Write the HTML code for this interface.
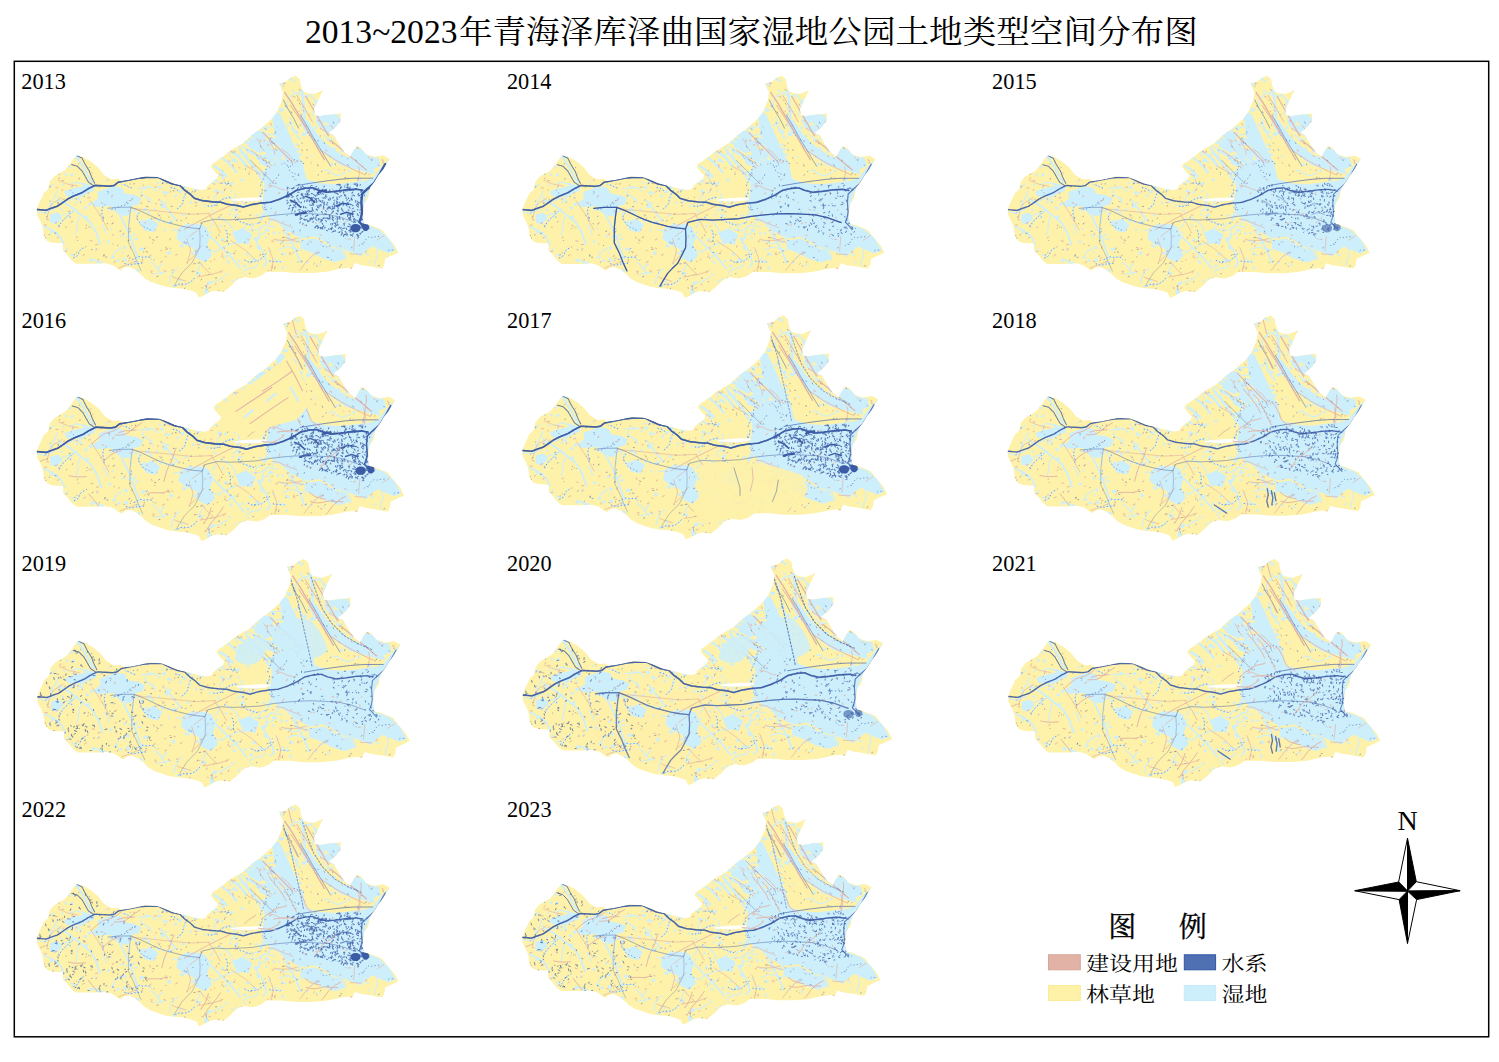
<!DOCTYPE html>
<html><head><meta charset="utf-8"><title>2013~2023年青海泽库泽曲国家湿地公园土地类型空间分布图</title>
<style>
html,body{margin:0;padding:0;background:#fff;}
body{width:1499px;height:1062px;overflow:hidden;}
svg{display:block;}
.yr{font-family:"Liberation Serif","Noto Serif CJK SC",serif;font-size:24px;fill:#000;}
.ttl{font-family:"Liberation Serif","Noto Serif CJK SC",serif;font-size:33.6px;fill:#000;}
.lg{font-family:"Liberation Serif","Noto Serif CJK SC",serif;font-size:23px;fill:#000;}
.lgt{font-family:"Liberation Serif","Noto Serif CJK SC",serif;font-size:28px;fill:#000;stroke:#000;stroke-width:0.35px;}
.nn{font-family:"Liberation Serif",serif;font-size:28px;fill:#000;}
</style></head>
<body>
<svg width="1499" height="1062" viewBox="0 0 1499 1062">
<defs><clipPath id="clipm"><path d="M36.6,209.4 38.0,205.4 39.7,201.5 41.9,197.0 43.6,193.0 47.6,189.6 48.7,185.6 49.6,181.5 54.1,176.2 64.7,170.1 70.7,162.6 76.0,155.1 82.7,156.6 90.3,161.1 97.8,167.1 103.8,174.7 111.4,179.2 117.4,178.4 120.4,180.7 127.9,179.9 135.5,178.4 144.5,176.2 156.6,176.9 165.6,179.9 174.6,183.7 185.6,186.3 194.1,188.6 201.5,189.7 206.0,188.6 206.6,186.3 211.6,181.8 216.7,178.4 217.9,175.0 214.5,171.6 210.5,166.6 211.6,163.7 217.3,160.3 219.5,158.1 224.1,155.3 226.9,152.4 235.9,146.8 242.1,143.4 250.7,135.4 260.0,128.7 270.7,119.4 276.0,112.7 281.4,100.7 282.7,92.7 278.7,83.3 285.4,82.0 289.4,78.0 295.2,75.8 299.4,79.3 300.1,84.7 302.7,91.3 306.7,93.3 313.4,94.0 322.1,90.5 317.4,100.7 313.4,110.0 314.7,115.4 320.1,116.0 328.1,114.7 340.1,113.4 340.1,120.7 334.8,127.4 328.1,132.7 333.4,135.4 338.8,144.7 344.1,152.7 349.4,156.7 355.4,146.0 360.1,147.4 365.4,154.1 373.5,156.7 382.8,155.4 388.8,158.7 386.8,162.1 382.8,168.7 377.5,175.4 373.5,182.1 369.4,187.4 367.4,198.0 363.4,203.3 362.1,216.7 363.4,223.4 368.5,224.5 378.6,228.5 382.0,230.2 386.6,236.4 393.9,244.9 397.6,252.2 391.6,255.0 384.3,258.4 383.7,264.0 381.5,268.0 377.0,267.5 371.3,266.3 364.5,265.2 360.0,264.6 354.1,262.7 351.4,268.7 347.4,267.4 338.1,268.7 326.1,271.4 311.4,272.7 295.4,272.7 282.0,271.4 266.0,271.4 260.7,275.4 252.7,278.0 243.4,276.7 236.7,279.4 230.0,286.1 223.3,291.4 214.1,290.4 208.1,292.2 202.1,295.8 198.5,297.0 196.1,292.2 191.3,290.4 184.1,288.6 172.1,287.4 164.9,286.2 157.7,283.8 150.5,281.4 144.5,277.8 139.7,273.0 134.9,269.4 128.9,266.4 124.1,267.0 120.4,270.0 116.8,268.2 112.0,264.6 104.8,262.8 95.2,263.4 85.6,263.4 76.0,263.4 71.2,259.8 67.6,255.0 62.8,250.2 62.8,243.0 52.0,242.4 47.2,240.6 43.6,235.8 43.6,233.7 43.1,229.2 42.0,225.2 40.3,220.7 38.0,216.7 36.9,213.9Z"/></clipPath><g id="base"><path d="M36.6,209.4 38.0,205.4 39.7,201.5 41.9,197.0 43.6,193.0 47.6,189.6 48.7,185.6 49.6,181.5 54.1,176.2 64.7,170.1 70.7,162.6 76.0,155.1 82.7,156.6 90.3,161.1 97.8,167.1 103.8,174.7 111.4,179.2 117.4,178.4 120.4,180.7 127.9,179.9 135.5,178.4 144.5,176.2 156.6,176.9 165.6,179.9 174.6,183.7 185.6,186.3 194.1,188.6 201.5,189.7 206.0,188.6 206.6,186.3 211.6,181.8 216.7,178.4 217.9,175.0 214.5,171.6 210.5,166.6 211.6,163.7 217.3,160.3 219.5,158.1 224.1,155.3 226.9,152.4 235.9,146.8 242.1,143.4 250.7,135.4 260.0,128.7 270.7,119.4 276.0,112.7 281.4,100.7 282.7,92.7 278.7,83.3 285.4,82.0 289.4,78.0 295.2,75.8 299.4,79.3 300.1,84.7 302.7,91.3 306.7,93.3 313.4,94.0 322.1,90.5 317.4,100.7 313.4,110.0 314.7,115.4 320.1,116.0 328.1,114.7 340.1,113.4 340.1,120.7 334.8,127.4 328.1,132.7 333.4,135.4 338.8,144.7 344.1,152.7 349.4,156.7 355.4,146.0 360.1,147.4 365.4,154.1 373.5,156.7 382.8,155.4 388.8,158.7 386.8,162.1 382.8,168.7 377.5,175.4 373.5,182.1 369.4,187.4 367.4,198.0 363.4,203.3 362.1,216.7 363.4,223.4 368.5,224.5 378.6,228.5 382.0,230.2 386.6,236.4 393.9,244.9 397.6,252.2 391.6,255.0 384.3,258.4 383.7,264.0 381.5,268.0 377.0,267.5 371.3,266.3 364.5,265.2 360.0,264.6 354.1,262.7 351.4,268.7 347.4,267.4 338.1,268.7 326.1,271.4 311.4,272.7 295.4,272.7 282.0,271.4 266.0,271.4 260.7,275.4 252.7,278.0 243.4,276.7 236.7,279.4 230.0,286.1 223.3,291.4 214.1,290.4 208.1,292.2 202.1,295.8 198.5,297.0 196.1,292.2 191.3,290.4 184.1,288.6 172.1,287.4 164.9,286.2 157.7,283.8 150.5,281.4 144.5,277.8 139.7,273.0 134.9,269.4 128.9,266.4 124.1,267.0 120.4,270.0 116.8,268.2 112.0,264.6 104.8,262.8 95.2,263.4 85.6,263.4 76.0,263.4 71.2,259.8 67.6,255.0 62.8,250.2 62.8,243.0 52.0,242.4 47.2,240.6 43.6,235.8 43.6,233.7 43.1,229.2 42.0,225.2 40.3,220.7 38.0,216.7 36.9,213.9Z" fill="#FEF1A9"/><g clip-path="url(#clipm)"><path d="M271.0,112.0 279.0,113.0 287.0,130.0 295.0,148.0 303.0,166.0 306.0,180.0 296.0,182.0 288.0,168.0 281.0,152.0 274.0,134.0Z" fill="#CDEFFC"/><path d="M300.0,118.0 307.0,120.0 316.0,133.0 325.0,143.0 340.0,154.0 356.0,160.0 372.0,166.0 374.0,174.0 358.0,170.0 340.0,165.0 322.0,152.0 312.0,140.0 304.0,130.0Z" fill="#CDEFFC"/><path d="M349.0,153.0 356.0,147.0 362.0,150.0 368.0,156.0 378.0,158.0 380.0,166.0 370.0,170.0 358.0,166.0 350.0,160.0Z" fill="#CDEFFC"/><path d="M97.2,191.6 106.0,188.4 114.1,186.0 122.1,187.6 124.5,193.2 134.1,194.8 141.3,198.0 138.1,204.4 130.1,206.0 132.5,210.8 126.9,215.7 118.9,214.0 114.1,210.8 110.9,206.0 104.5,206.0 94.8,206.8 91.6,202.8 98.0,198.0Z" fill="#CDEFFC"/><path d="M64.0,191.0 72.0,188.5 80.0,186.5 88.0,184.0 95.0,186.5 92.0,191.0 84.0,195.0 75.0,196.5 66.0,196.0Z" fill="#CDEFFC"/><path d="M178.0,228.0 186.0,224.0 196.0,223.5 205.0,226.0 210.0,235.0 207.0,245.0 212.0,255.0 205.0,262.0 196.0,258.0 193.0,248.0 183.0,244.0 176.0,238.0Z" fill="#CDEFFC"/><path d="M262.0,172.0 276.0,162.0 290.0,158.0 300.0,165.0 304.0,178.0 318.0,183.0 335.0,184.0 352.0,182.0 362.0,181.0 372.0,178.0 378.0,170.0 384.0,163.0 388.0,159.0 382.0,170.0 372.0,184.0 366.0,195.0 362.0,210.0 364.0,224.0 378.0,229.0 388.0,238.0 395.0,250.0 388.0,253.0 380.0,250.0 372.0,246.0 366.0,250.0 360.0,256.0 350.0,252.0 340.0,248.0 330.0,246.0 322.0,240.0 314.0,236.0 305.0,238.0 296.0,236.0 286.0,230.0 280.0,224.0 272.0,220.0 266.0,214.0 262.0,208.0 262.0,200.0 264.0,192.0 264.0,184.0Z" fill="#CDEFFC"/><path d="M300.0,240.0 315.0,238.0 328.0,246.0 340.0,250.0 345.0,258.0 335.0,262.0 322.0,258.0 310.0,252.0 300.0,248.0Z" fill="#CDEFFC"/><path d="M50.0,214.0 58.0,212.0 62.0,218.0 56.0,224.0 50.0,222.0Z" fill="#CDEFFC"/><path d="M140.0,222.0 150.0,218.0 158.0,224.0 154.0,232.0 144.0,230.0Z" fill="#CDEFFC"/><path d="M232.0,232.0 242.0,228.0 252.0,234.0 248.0,244.0 236.0,242.0Z" fill="#CDEFFC"/><path d="M255.2,131.6L264.3,136.4M250.3,138.8L258.8,143.8M259.9,162.2L268.8,164.9M254.3,139.4L263.1,143.6M246.1,149.6L256.2,155.3M260.1,155.6L267.9,158.3M254.5,133.8L264.8,139.8M259.1,142.1L269.3,146.9M261.3,163.0L271.9,167.2M275.8,151.1L280.4,153.7M254.9,145.6L259.6,148.3M250.1,133.9L256.3,138.7M269.2,139.2L274.8,141.1M270.3,149.3L280.4,150.7M263.9,140.8L269.4,143.8M248.4,146.0L257.7,150.8M270.6,158.0L275.7,161.7M248.9,138.9L257.8,145.0M254.4,140.4L264.7,144.7M273.9,153.1L280.8,156.7M257.7,137.3L264.5,139.6M272.6,154.0L278.9,155.7M268.9,150.8L278.2,155.1M243.7,140.4L253.7,146.6M250.6,142.8L258.8,149.4M260.9,162.3L267.4,164.1M272.7,141.2L279.3,143.5M263.3,148.6L274.8,151.8M265.1,142.8L272.3,144.4M264.0,150.3L273.4,157.3M248.4,150.2L256.7,155.0M268.6,158.7L274.0,162.6M271.2,138.2L279.3,141.4M266.1,154.5L271.6,157.3M268.2,141.3L277.1,146.2M258.2,144.4L265.6,150.1M265.2,155.5L269.8,157.7M262.0,163.1L269.5,165.8M255.7,146.3L261.4,150.3M266.8,163.7L276.6,167.6M256.8,131.8L262.3,133.9M256.7,157.8L265.6,162.2M250.7,146.1L259.9,151.7M259.6,131.8L264.8,133.7M250.6,142.1L257.7,146.6" stroke="#CDEFFC" stroke-width="2.6" stroke-linecap="round" fill="none"/><path d="M321.0,127.0L329.1,130.9M326.3,126.1L332.1,128.0M327.9,115.0L332.8,116.8M321.5,117.7L328.8,121.1M327.6,121.1L337.6,124.8M316.4,116.5L324.5,120.1M318.0,123.0L326.3,128.3M318.4,115.3L323.9,118.0M326.4,128.4L335.4,130.5M322.2,115.0L328.1,117.0M318.3,114.7L325.3,119.5M328.7,115.0L335.9,118.7M330.9,120.9L337.6,123.3M320.3,114.6L328.4,121.5M320.4,116.0L328.0,118.7M316.1,120.5L323.0,122.9M322.4,129.8L327.3,131.7M332.6,126.0L337.6,127.2M332.5,119.1L339.8,121.9M323.4,129.5L334.1,134.8M319.9,125.6L325.0,129.1M327.0,122.0L332.9,124.5M333.7,117.0L340.2,119.9M326.7,120.6L333.6,125.7M320.0,115.1L330.3,119.9M317.0,123.1L322.8,126.0M333.3,121.4L338.6,125.1M329.9,115.3L339.8,119.8M318.8,125.8L328.0,129.0M324.5,130.1L332.7,133.0M328.5,121.3L336.4,124.7M316.7,118.4L322.4,121.1M332.2,114.8L337.2,116.4M316.4,116.8L322.2,120.4M333.4,117.8L341.4,121.9" stroke="#CDEFFC" stroke-width="2.6" stroke-linecap="round" fill="none"/><path d="M214.0,166.0 220.0,170.0 226.0,176.0" fill="none" stroke="#CDEFFC" stroke-width="2.5" stroke-linecap="round" stroke-linejoin="round"/><path d="M222.0,158.0 230.0,164.0 236.0,172.0" fill="none" stroke="#CDEFFC" stroke-width="2.2" stroke-linecap="round" stroke-linejoin="round"/><path d="M232.0,152.0 240.0,158.0 246.0,166.0" fill="none" stroke="#CDEFFC" stroke-width="2.5" stroke-linecap="round" stroke-linejoin="round"/><path d="M212.0,178.0 218.0,182.0" fill="none" stroke="#CDEFFC" stroke-width="2.0" stroke-linecap="round" stroke-linejoin="round"/><path d="M278.5,83.4 281.0,95.0 275.0,108.0" fill="none" stroke="#CDEFFC" stroke-width="3.0" stroke-linecap="round" stroke-linejoin="round"/><path d="M301.3,91.0 303.0,103.0 304.0,118.0" fill="none" stroke="#CDEFFC" stroke-width="2.6" stroke-linecap="round" stroke-linejoin="round"/><path d="M255.0,135.0 262.0,143.0 270.0,150.0 278.0,158.0 286.0,166.0" fill="none" stroke="#CDEFFC" stroke-width="3.0" stroke-linecap="round" stroke-linejoin="round"/><path d="M240.0,150.0 248.0,160.0 256.0,170.0 262.0,180.0" fill="none" stroke="#CDEFFC" stroke-width="2.5" stroke-linecap="round" stroke-linejoin="round"/><path d="M315.0,100.0 320.0,110.0 326.0,120.0 333.0,130.0" fill="none" stroke="#CDEFFC" stroke-width="2.0" stroke-linecap="round" stroke-linejoin="round"/><path d="M330.0,118.0 336.0,125.0 341.0,133.0" fill="none" stroke="#CDEFFC" stroke-width="2.0" stroke-linecap="round" stroke-linejoin="round"/><path d="M355.0,150.0 360.0,160.0 366.0,170.0" fill="none" stroke="#CDEFFC" stroke-width="2.5" stroke-linecap="round" stroke-linejoin="round"/><path d="M76.0,156.0 80.0,162.0 84.0,168.0 88.0,176.0 92.0,182.0" fill="none" stroke="#CDEFFC" stroke-width="2.0" stroke-linecap="round" stroke-linejoin="round"/><path d="M60.0,200.0 70.0,206.0 80.0,214.0 90.0,222.0 96.0,232.0 100.0,244.0" fill="none" stroke="#CDEFFC" stroke-width="1.8" stroke-linecap="round" stroke-linejoin="round"/><path d="M120.0,215.0 125.0,225.0 130.0,236.0 134.0,248.0 138.0,258.0" fill="none" stroke="#CDEFFC" stroke-width="1.8" stroke-linecap="round" stroke-linejoin="round"/><path d="M160.0,200.0 168.0,210.0 176.0,220.0" fill="none" stroke="#CDEFFC" stroke-width="1.6" stroke-linecap="round" stroke-linejoin="round"/><path d="M210.0,236.0 222.0,248.0 232.0,258.0 240.0,268.0" fill="none" stroke="#CDEFFC" stroke-width="1.6" stroke-linecap="round" stroke-linejoin="round"/><path d="M255.0,240.0 262.0,250.0 266.0,262.0" fill="none" stroke="#CDEFFC" stroke-width="1.6" stroke-linecap="round" stroke-linejoin="round"/><path d="M44.0,226.0 52.0,230.0 60.0,236.0 64.0,244.0" fill="none" stroke="#CDEFFC" stroke-width="1.6" stroke-linecap="round" stroke-linejoin="round"/><path d="M284.0,226.0 290.0,240.0 296.0,252.0 300.0,262.0" fill="none" stroke="#CDEFFC" stroke-width="1.8" stroke-linecap="round" stroke-linejoin="round"/><path d="M230.1,156.7 229.6,154.1 228.6,151.7M264.3,204.8 262.0,203.5 260.9,201.2 260.3,198.6 259.7,196.1 259.5,193.5M260.1,185.6 260.5,183.1 262.0,180.9 262.9,178.5 263.9,176.1 265.3,173.9 265.5,171.3 265.6,168.7 266.9,166.4 266.4,163.9 265.7,161.4M299.9,139.5 298.7,137.2 296.6,135.7 295.9,133.2 293.6,131.9 292.1,129.8 291.5,127.3 291.4,124.7 291.7,122.1 290.5,119.8 288.9,117.8M215.9,252.1 213.5,251.0 211.0,250.3 208.5,249.7 205.9,249.5M289.8,218.9 287.8,217.3 286.2,215.3 284.2,213.6 282.8,211.4 281.2,209.4 279.0,208.0 276.6,207.1M303.1,163.8 301.8,161.6 299.3,160.8 296.7,160.5 294.4,159.5 291.8,160.0 289.3,160.8 286.7,160.6M166.1,271.4 163.5,271.8 161.0,272.2 158.5,272.8 155.9,273.1 153.4,273.9M229.6,210.7 232.0,209.7 233.9,207.9 234.9,205.5 234.1,203.0 233.7,200.5 234.7,198.0 235.3,195.5 235.0,192.9M76.3,208.7 74.1,210.1 71.7,211.2 69.4,212.4 67.1,213.5 64.5,213.7 62.1,214.8 59.6,215.5 57.0,215.6M132.2,259.1 134.7,258.4 136.7,256.8 139.3,256.2 141.8,256.9 144.4,256.8 146.9,256.3 149.4,257.0 151.1,259.0M223.7,276.7 221.3,277.7 219.1,279.0 217.0,280.5 214.6,281.6 212.0,281.7M344.4,254.1 343.3,251.7 341.8,249.7 339.3,248.8 336.9,247.8 335.5,245.6 334.0,243.5 332.1,241.7 330.2,239.9 327.9,238.6M328.5,235.8 326.4,237.3 324.2,238.7 322.5,240.7 320.7,242.6 321.4,245.1 321.8,247.7M268.8,260.4 271.3,261.1 273.9,261.1 276.5,261.3 279.1,261.6 281.6,261.2M378.4,236.1 375.8,236.4 373.2,236.6 370.7,237.2 368.2,236.6 366.1,238.2 364.3,240.2 363.2,242.5M271.1,192.3 273.7,192.3 276.3,192.5 278.9,192.5 281.5,192.8 283.8,194.0 286.0,195.3 288.6,195.9 290.9,194.9 293.1,193.4 295.7,193.2M217.7,193.4 215.5,194.8 214.2,197.1 213.8,199.6 213.1,202.1 212.0,204.5M58.9,226.7 59.8,224.3 61.3,222.1 62.9,220.1 64.8,218.3 66.7,216.6 68.5,214.8 70.4,212.9 72.5,211.3M136.7,188.2 139.3,188.0 141.8,187.4 144.2,188.2 146.7,187.6 149.2,186.9 151.8,187.3 153.6,189.2 155.8,190.6M278.3,249.2 280.8,248.5 283.1,247.4 285.6,246.7 288.2,246.7 290.7,247.5 293.2,248.2 295.8,248.6 298.3,249.3 300.8,249.8M277.7,125.3 275.2,126.2 272.7,126.8 270.1,126.7 267.5,126.6 264.9,126.7 262.5,127.7 260.3,129.0M261.8,189.1 261.8,191.7 261.1,194.2 260.1,196.6 258.7,198.8M309.4,257.1 311.7,255.8 313.5,254.0 316.0,253.1 318.5,254.0 321.0,253.5 323.4,252.5 325.9,251.7 328.4,251.0 330.8,250.1M265.6,253.1 264.2,255.3 262.2,257.0 260.2,258.6 258.1,260.2 255.6,260.9 253.1,261.6 250.5,261.3 248.0,261.6 245.6,260.5 243.4,259.1M197.5,224.5 200.1,224.6 202.2,226.1 204.3,227.7 206.6,228.9M208.0,282.5 206.3,284.5 205.5,287.0 206.6,289.4 208.1,291.5M299.7,106.7 301.2,108.8 302.8,110.9 305.3,111.8 307.8,111.5M276.7,160.1 279.3,160.6 281.9,161.0 284.1,162.2 286.1,163.9 287.5,166.1 289.0,168.2 288.3,170.8 286.6,172.7 285.1,174.8M248.4,162.9 247.8,160.4 247.4,157.9 246.7,155.4 247.2,152.8 246.7,150.3 245.0,148.2 242.8,146.9 240.5,145.7M139.2,212.7 137.3,214.5 136.9,217.0 137.4,219.5 139.0,221.6 140.3,223.9 142.1,225.8 144.4,226.9 146.9,227.8 148.9,229.4 151.4,229.8M334.9,205.0 337.5,204.9 340.1,205.0 342.7,205.2 345.0,204.0 346.1,201.7M226.5,240.8 226.8,238.2 227.1,235.6 226.8,233.0 226.3,230.5 224.0,229.4M209.5,227.0 211.3,225.1 212.5,222.8 213.3,220.3 213.3,217.7M141.6,190.1 140.6,192.5 142.3,194.4 144.5,195.9 146.8,197.1 148.5,199.0 149.9,201.2 151.3,203.4M306.4,133.7 305.6,131.3 303.9,129.3 303.1,126.8 301.6,124.7 300.2,122.5 300.6,120.0 300.9,117.4 301.2,114.8M150.7,261.7 152.9,263.1 154.7,265.0 156.6,266.7 157.4,269.2M177.4,268.2 175.0,269.1 173.6,271.3 172.3,273.6 170.8,275.7 169.8,278.1 170.0,280.7 168.7,283.0M315.7,249.5 314.4,247.2 312.3,245.7 311.6,243.2 310.0,241.2M234.9,235.0 232.9,233.3 231.8,231.0 232.0,228.4 230.4,226.3 229.0,224.2 227.1,222.4 225.2,220.7 222.8,219.5 220.7,218.0 218.5,216.6M272.3,165.7 271.0,163.4 269.5,161.3 268.1,159.0 267.3,156.6 266.9,154.0 268.3,151.9 269.2,149.4M242.2,272.1 243.9,270.1 246.3,268.9 248.6,267.9 251.2,267.6 253.8,267.2 256.0,265.9 257.8,264.0M284.5,192.9 286.6,191.3 289.0,190.4 291.5,189.5 294.1,189.4 295.8,187.5 298.1,186.2 300.6,185.9 302.6,184.2 304.8,182.7 306.9,181.2M207.4,205.7 210.0,206.1 212.6,205.6 215.0,204.9 216.7,202.9 218.8,201.3 220.9,199.7 223.2,198.6 225.7,197.9 228.2,197.1 230.8,197.0M67.3,247.6 66.3,250.1 64.0,251.1M266.3,230.3 265.1,232.7 262.7,233.5 260.1,234.0 257.5,233.9M226.6,196.8 229.1,197.4 231.2,199.0 233.1,200.7 235.4,202.1M129.5,223.4 129.5,220.8 129.7,218.2 129.6,215.6 128.8,213.2 127.8,210.7M142.1,262.7 139.5,263.0 136.9,263.4 134.3,263.5 131.8,264.2 129.2,264.7 126.9,263.6 124.3,263.2M276.5,159.6 275.1,157.3 274.0,155.0 273.1,152.5 270.9,151.1M239.2,243.6 236.8,242.5 234.3,242.8 231.7,243.4 229.2,243.9 226.9,245.2 224.6,246.3 222.1,247.0 219.6,248.0 218.0,249.9 215.5,250.7M329.7,245.4 327.2,246.0 324.7,246.8 322.2,246.0 320.0,244.6M259.3,133.8 260.6,136.1 262.1,138.2 263.8,140.2 266.2,141.2 268.2,142.8 270.8,142.5M75.3,234.1 75.9,231.6 76.7,229.1 77.0,226.5 77.3,223.9 77.5,221.3 78.4,218.9 79.0,216.4M286.5,109.3 286.8,106.7 287.2,104.1 287.2,101.5 287.8,99.0 289.6,97.1 291.4,95.2 293.4,93.6 295.9,92.9 298.5,92.6 300.6,91.1M71.4,186.1 72.4,188.5 73.0,191.0 75.1,192.5 76.9,194.4 78.7,196.3 79.4,198.8 80.0,201.3M318.1,140.8 315.5,140.5 313.3,139.2 311.1,137.7 309.5,135.7 307.8,133.7 306.6,131.4M355.8,203.7 358.2,202.7 359.8,200.6 361.2,198.5 363.2,196.8 365.6,195.7 368.0,194.7M54.8,208.6 52.5,209.8 49.9,210.3 47.6,211.5 45.3,212.8 42.7,212.5 40.2,211.9 37.7,211.4M128.6,208.4 130.7,206.8 131.5,204.3 131.6,201.7 132.1,199.2 132.4,196.6M287.6,166.4 288.6,168.9 289.5,171.3 291.9,172.4 294.3,173.5 296.6,174.6 298.9,175.8M269.3,162.2 266.8,161.5 264.4,160.5 262.1,159.2 259.9,157.8M245.2,156.5 243.4,154.6 240.9,153.8 238.4,154.6 235.8,154.2 233.4,153.2M170.5,187.4 173.1,187.6 175.4,188.7 177.5,190.3 179.0,192.4M370.9,161.6 373.5,161.7 375.6,160.1 376.8,157.8M260.8,211.8 263.4,212.2 265.9,211.8 268.5,212.0 271.1,211.8M125.8,236.1 128.3,236.8 130.9,236.4 133.2,235.3 134.9,233.3M201.1,263.6 199.3,265.4 198.4,267.9 197.0,270.1 196.5,272.6 195.6,275.1M45.0,212.7 46.7,210.7 48.9,209.3 49.9,206.9 51.1,204.6 51.6,202.0 52.8,199.7 54.3,197.6 54.8,195.1 56.5,193.0 56.9,190.5M296.7,93.5 298.8,95.0 301.4,95.2 303.9,95.8 306.5,96.4 309.0,96.0 311.3,94.7M329.4,251.6 332.0,251.4 334.5,250.9 336.8,249.6 339.4,249.5 341.8,250.4 343.2,252.6 344.9,254.6 345.0,257.2 344.5,259.8M131.5,187.7 129.0,187.1 126.8,185.7 124.4,184.7 121.8,184.2M322.6,134.3 324.3,136.2 326.6,137.4 328.8,138.8 331.3,139.6 333.7,138.6M345.8,239.0 344.0,237.2 342.1,235.4 339.7,234.5 337.9,232.6 335.8,231.0 333.8,229.4 331.8,227.7M248.1,222.6 246.0,224.1 244.3,226.2 243.0,228.3 240.7,229.7M53.8,183.8 51.8,185.4 49.9,187.2M247.3,206.1 244.8,205.4 243.2,203.4 241.7,201.2 240.0,199.3 237.7,198.0M276.8,135.5 274.4,134.5 271.8,134.3 269.2,134.5 266.7,135.2 264.6,136.7 262.0,136.8 259.5,137.5 257.0,138.2 254.7,137.0 253.0,135.0M108.6,210.3 110.7,208.7 113.1,207.7 115.3,206.4 117.6,205.1 118.2,202.6 116.9,200.3 115.4,198.2 113.2,196.8 110.6,196.2M194.2,277.6 192.5,279.5 190.5,281.2 188.3,282.6 185.9,283.6 183.3,283.8 180.7,283.8 178.1,283.8 175.9,285.1 173.4,285.7M132.6,198.3 130.2,199.4 128.6,201.4 127.4,203.7 125.0,204.6 122.5,205.1 120.0,206.0 117.7,207.3 115.5,208.6 112.9,208.6 110.5,209.5M176.9,208.8 178.7,206.9 180.8,205.4 182.3,203.3 182.8,200.7 183.5,198.2 184.3,195.8 185.2,193.3 186.6,191.1 187.9,188.9M356.0,250.4 357.9,248.6 359.8,246.8 361.9,245.2 364.5,245.2 366.8,246.4M286.6,216.0 285.9,218.5 285.2,221.0 285.1,223.6 283.9,225.9 283.0,228.4 283.1,231.0 284.7,233.1 286.2,235.2M308.7,95.1 311.0,96.4 313.0,98.0 314.1,100.4 314.3,103.0 314.3,105.6 313.5,108.1 312.9,110.6 312.3,113.1 311.6,115.6M295.0,157.2 292.7,156.0 290.4,154.8 288.0,153.8 285.6,152.9 283.0,152.8 280.4,152.2 277.9,151.5 275.3,151.6M291.0,194.8 288.7,193.5 286.3,192.5 284.5,190.7 282.2,189.4 279.8,188.3 277.5,187.2 275.0,186.3 272.5,185.7 270.1,184.8 267.5,184.4M375.5,245.4 375.7,248.0 376.1,250.6 376.7,253.1 376.9,255.7 375.5,257.9 374.8,260.4 374.2,262.9 374.5,265.5M251.1,228.3 252.3,226.0 254.0,224.0 256.4,222.9 259.0,223.2M275.6,239.9 278.2,240.5 280.7,241.1 282.9,242.5 285.4,243.1 288.0,242.6 290.3,241.4 292.6,240.2 294.9,239.0M259.5,235.8 258.9,233.3 259.4,230.7 260.2,228.2 261.7,226.1 263.8,224.6 266.3,225.3 268.9,225.9 271.4,226.1 274.0,226.8M323.6,238.0 321.0,237.8 318.8,236.3 316.4,235.2 315.4,232.8 314.2,230.5M345.0,172.4 342.7,173.5 340.2,174.4 337.8,175.4 335.3,174.9 332.9,173.8 330.6,172.7 328.7,170.8 326.3,170.0 323.7,170.2M342.0,223.5 343.0,221.1 343.0,218.5 343.2,215.9 343.9,213.4 345.2,211.2 347.1,209.4 348.9,207.5 351.4,206.8 354.0,206.7 356.5,206.1M181.0,233.4 179.2,231.6 177.0,230.3 174.5,229.6 171.9,229.8M102.7,220.6 103.3,218.1 102.3,215.7 101.8,213.1 101.7,210.5 101.9,207.9 103.4,205.8 105.3,204.1M162.3,263.2 160.2,264.8 158.9,267.0 158.7,269.6 159.7,272.0 161.5,273.9M283.7,162.6 285.4,164.6 287.8,165.6 290.3,166.1 292.9,166.1M263.5,225.1 261.7,226.9 259.2,227.9 257.0,229.2 254.6,230.2 252.1,229.7 249.5,229.7 246.9,229.2M83.3,247.6 81.1,249.0 79.1,250.7 78.5,253.2 77.1,255.4 75.0,256.9 72.5,257.7M310.9,219.5 312.9,217.8 314.8,216.1 317.2,215.1 319.6,214.1 322.2,214.0M297.2,138.0 296.4,135.5 295.3,133.1 294.1,130.9 293.1,128.4 292.0,126.1 290.5,124.0 289.8,121.5M67.4,200.7 69.8,199.8 72.2,198.8 74.6,197.7 77.0,198.8 79.3,200.0 81.7,200.8M120.9,247.5 119.0,249.3 116.6,250.2 114.9,252.2 113.4,254.3 112.8,256.8M234.6,216.6 236.0,218.8 238.2,220.3 240.3,221.7 242.9,222.2 245.1,223.5 247.7,224.1 250.2,224.7M86.9,184.9 84.6,183.7 82.0,183.3 79.4,182.9 77.0,182.0 74.4,182.2 72.1,183.3 69.5,184.0M287.8,185.9 285.3,186.5 282.7,186.4 280.1,186.0 277.5,185.7 275.0,186.3 272.8,187.7 270.2,188.0M220.9,183.0 223.5,182.5 226.1,182.9 228.6,183.5 231.0,184.5M274.5,151.3 276.7,152.7 279.2,153.4 281.6,154.3 284.1,153.8 286.5,152.6 288.6,151.1M106.0,233.6 105.5,231.0 104.2,228.8 103.4,226.3 101.8,224.2" stroke="#CDEFFC" stroke-width="1.1" stroke-linecap="round" stroke-linejoin="round" fill="none"/><path d="M264.3,204.8 262.0,203.5 260.9,201.2 260.3,198.6 259.7,196.1 259.5,193.5M260.1,185.6 260.5,183.1 262.0,180.9 262.9,178.5 263.9,176.1 265.3,173.9 265.5,171.3 265.6,168.7 266.9,166.4 266.4,163.9 265.7,161.4M303.1,163.8 301.8,161.6 299.3,160.8 296.7,160.5 294.4,159.5 291.8,160.0 289.3,160.8 286.7,160.6M132.2,259.1 134.7,258.4 136.7,256.8 139.3,256.2 141.8,256.9 144.4,256.8 146.9,256.3 149.4,257.0 151.1,259.0M268.8,260.4 271.3,261.1 273.9,261.1 276.5,261.3 279.1,261.6 281.6,261.2M378.4,236.1 375.8,236.4 373.2,236.6 370.7,237.2 368.2,236.6 366.1,238.2 364.3,240.2 363.2,242.5M58.9,226.7 59.8,224.3 61.3,222.1 62.9,220.1 64.8,218.3 66.7,216.6 68.5,214.8 70.4,212.9 72.5,211.3M261.8,189.1 261.8,191.7 261.1,194.2 260.1,196.6 258.7,198.8M265.6,253.1 264.2,255.3 262.2,257.0 260.2,258.6 258.1,260.2 255.6,260.9 253.1,261.6 250.5,261.3 248.0,261.6 245.6,260.5 243.4,259.1M208.0,282.5 206.3,284.5 205.5,287.0 206.6,289.4 208.1,291.5M139.2,212.7 137.3,214.5 136.9,217.0 137.4,219.5 139.0,221.6 140.3,223.9 142.1,225.8 144.4,226.9 146.9,227.8 148.9,229.4 151.4,229.8M334.9,205.0 337.5,204.9 340.1,205.0 342.7,205.2 345.0,204.0 346.1,201.7M226.5,240.8 226.8,238.2 227.1,235.6 226.8,233.0 226.3,230.5 224.0,229.4M207.4,205.7 210.0,206.1 212.6,205.6 215.0,204.9 216.7,202.9 218.8,201.3 220.9,199.7 223.2,198.6 225.7,197.9 228.2,197.1 230.8,197.0M142.1,262.7 139.5,263.0 136.9,263.4 134.3,263.5 131.8,264.2 129.2,264.7 126.9,263.6 124.3,263.2M329.7,245.4 327.2,246.0 324.7,246.8 322.2,246.0 320.0,244.6M318.1,140.8 315.5,140.5 313.3,139.2 311.1,137.7 309.5,135.7 307.8,133.7 306.6,131.4M287.6,166.4 288.6,168.9 289.5,171.3 291.9,172.4 294.3,173.5 296.6,174.6 298.9,175.8M269.3,162.2 266.8,161.5 264.4,160.5 262.1,159.2 259.9,157.8M170.5,187.4 173.1,187.6 175.4,188.7 177.5,190.3 179.0,192.4M131.5,187.7 129.0,187.1 126.8,185.7 124.4,184.7 121.8,184.2M345.8,239.0 344.0,237.2 342.1,235.4 339.7,234.5 337.9,232.6 335.8,231.0 333.8,229.4 331.8,227.7M194.2,277.6 192.5,279.5 190.5,281.2 188.3,282.6 185.9,283.6 183.3,283.8 180.7,283.8 178.1,283.8 175.9,285.1 173.4,285.7M132.6,198.3 130.2,199.4 128.6,201.4 127.4,203.7 125.0,204.6 122.5,205.1 120.0,206.0 117.7,207.3 115.5,208.6 112.9,208.6 110.5,209.5M176.9,208.8 178.7,206.9 180.8,205.4 182.3,203.3 182.8,200.7 183.5,198.2 184.3,195.8 185.2,193.3 186.6,191.1 187.9,188.9M102.7,220.6 103.3,218.1 102.3,215.7 101.8,213.1 101.7,210.5 101.9,207.9 103.4,205.8 105.3,204.1M283.7,162.6 285.4,164.6 287.8,165.6 290.3,166.1 292.9,166.1M83.3,247.6 81.1,249.0 79.1,250.7 78.5,253.2 77.1,255.4 75.0,256.9 72.5,257.7M234.6,216.6 236.0,218.8 238.2,220.3 240.3,221.7 242.9,222.2 245.1,223.5 247.7,224.1 250.2,224.7M220.9,183.0 223.5,182.5 226.1,182.9 228.6,183.5 231.0,184.5" stroke="#4B69AA" stroke-width="0.9" stroke-dasharray="1.2 2.2" fill="none" opacity="0.75"/><g fill="#CDEFFC"><ellipse cx="326.1" cy="208.5" rx="2.4" ry="1.5" transform="rotate(-58 326.1 208.5)"/><ellipse cx="91.2" cy="260.0" rx="1.9" ry="1.8" transform="rotate(-30 91.2 260.0)"/><ellipse cx="315.1" cy="127.6" rx="1.6" ry="1.4" transform="rotate(-21 315.1 127.6)"/><ellipse cx="368.9" cy="244.6" rx="2.2" ry="0.9" transform="rotate(-43 368.9 244.6)"/><ellipse cx="324.4" cy="197.0" rx="2.2" ry="1.2" transform="rotate(4 324.4 197.0)"/><ellipse cx="231.5" cy="183.0" rx="1.5" ry="1.5" transform="rotate(27 231.5 183.0)"/><ellipse cx="175.6" cy="195.4" rx="1.8" ry="1.0" transform="rotate(-52 175.6 195.4)"/><ellipse cx="180.3" cy="191.1" rx="1.3" ry="1.6" transform="rotate(-21 180.3 191.1)"/><ellipse cx="327.5" cy="139.9" rx="1.8" ry="1.0" transform="rotate(34 327.5 139.9)"/><ellipse cx="369.7" cy="184.9" rx="2.4" ry="1.0" transform="rotate(-4 369.7 184.9)"/><ellipse cx="240.7" cy="205.6" rx="1.2" ry="1.7" transform="rotate(-26 240.7 205.6)"/><ellipse cx="71.7" cy="174.6" rx="1.9" ry="1.3" transform="rotate(-44 71.7 174.6)"/><ellipse cx="341.2" cy="150.8" rx="2.6" ry="1.1" transform="rotate(-57 341.2 150.8)"/><ellipse cx="291.3" cy="183.5" rx="2.3" ry="1.7" transform="rotate(44 291.3 183.5)"/><ellipse cx="291.6" cy="95.7" rx="1.4" ry="0.9" transform="rotate(-49 291.6 95.7)"/><ellipse cx="369.0" cy="187.8" rx="1.1" ry="1.6" transform="rotate(-15 369.0 187.8)"/><ellipse cx="121.5" cy="235.2" rx="1.1" ry="1.7" transform="rotate(53 121.5 235.2)"/><ellipse cx="58.0" cy="198.1" rx="0.9" ry="1.7" transform="rotate(-29 58.0 198.1)"/><ellipse cx="221.9" cy="239.4" rx="2.2" ry="1.2" transform="rotate(-48 221.9 239.4)"/><ellipse cx="108.4" cy="241.3" rx="1.9" ry="1.1" transform="rotate(18 108.4 241.3)"/><ellipse cx="358.7" cy="179.3" rx="2.4" ry="1.6" transform="rotate(-41 358.7 179.3)"/><ellipse cx="259.9" cy="158.3" rx="2.1" ry="1.5" transform="rotate(55 259.9 158.3)"/><ellipse cx="370.9" cy="161.0" rx="0.8" ry="0.7" transform="rotate(57 370.9 161.0)"/><ellipse cx="78.3" cy="156.8" rx="1.4" ry="1.5" transform="rotate(-38 78.3 156.8)"/><ellipse cx="199.5" cy="272.5" rx="1.6" ry="0.8" transform="rotate(-10 199.5 272.5)"/><ellipse cx="326.9" cy="133.5" rx="1.0" ry="1.1" transform="rotate(-2 326.9 133.5)"/><ellipse cx="92.0" cy="189.4" rx="1.9" ry="1.5" transform="rotate(51 92.0 189.4)"/><ellipse cx="238.7" cy="260.6" rx="1.0" ry="1.5" transform="rotate(56 238.7 260.6)"/><ellipse cx="95.2" cy="259.9" rx="2.6" ry="0.8" transform="rotate(17 95.2 259.9)"/><ellipse cx="221.0" cy="173.8" rx="2.2" ry="1.7" transform="rotate(-26 221.0 173.8)"/><ellipse cx="101.8" cy="262.4" rx="1.7" ry="0.9" transform="rotate(-39 101.8 262.4)"/><ellipse cx="253.4" cy="259.2" rx="2.4" ry="1.5" transform="rotate(31 253.4 259.2)"/><ellipse cx="278.4" cy="214.8" rx="1.1" ry="1.0" transform="rotate(-59 278.4 214.8)"/><ellipse cx="286.5" cy="190.7" rx="2.3" ry="1.7" transform="rotate(2 286.5 190.7)"/><ellipse cx="69.2" cy="166.4" rx="2.2" ry="0.8" transform="rotate(20 69.2 166.4)"/><ellipse cx="126.3" cy="200.4" rx="2.6" ry="0.6" transform="rotate(24 126.3 200.4)"/><ellipse cx="244.1" cy="265.6" rx="1.4" ry="1.7" transform="rotate(56 244.1 265.6)"/><ellipse cx="124.9" cy="259.4" rx="2.4" ry="1.5" transform="rotate(44 124.9 259.4)"/><ellipse cx="244.6" cy="274.4" rx="1.3" ry="0.7" transform="rotate(28 244.6 274.4)"/><ellipse cx="149.2" cy="198.6" rx="2.5" ry="0.6" transform="rotate(51 149.2 198.6)"/><ellipse cx="303.3" cy="133.6" rx="2.3" ry="1.4" transform="rotate(-4 303.3 133.6)"/><ellipse cx="204.4" cy="205.4" rx="2.2" ry="0.7" transform="rotate(-45 204.4 205.4)"/><ellipse cx="355.9" cy="195.6" rx="1.2" ry="0.9" transform="rotate(20 355.9 195.6)"/><ellipse cx="265.8" cy="229.3" rx="1.9" ry="1.3" transform="rotate(-56 265.8 229.3)"/><ellipse cx="339.3" cy="234.1" rx="2.3" ry="1.3" transform="rotate(58 339.3 234.1)"/><ellipse cx="239.2" cy="147.7" rx="1.1" ry="1.4" transform="rotate(-18 239.2 147.7)"/><ellipse cx="350.8" cy="222.5" rx="0.8" ry="0.7" transform="rotate(-38 350.8 222.5)"/><ellipse cx="278.2" cy="125.7" rx="1.6" ry="1.1" transform="rotate(60 278.2 125.7)"/><ellipse cx="261.7" cy="214.8" rx="2.3" ry="0.6" transform="rotate(-48 261.7 214.8)"/><ellipse cx="195.4" cy="189.0" rx="2.4" ry="1.7" transform="rotate(9 195.4 189.0)"/><ellipse cx="135.6" cy="238.6" rx="2.1" ry="0.9" transform="rotate(-6 135.6 238.6)"/><ellipse cx="287.4" cy="124.8" rx="1.5" ry="1.3" transform="rotate(-16 287.4 124.8)"/><ellipse cx="209.1" cy="256.9" rx="0.9" ry="1.0" transform="rotate(-37 209.1 256.9)"/><ellipse cx="179.7" cy="280.2" rx="1.1" ry="1.7" transform="rotate(-21 179.7 280.2)"/><ellipse cx="235.6" cy="209.8" rx="1.4" ry="1.4" transform="rotate(2 235.6 209.8)"/><ellipse cx="337.8" cy="154.1" rx="2.2" ry="1.2" transform="rotate(59 337.8 154.1)"/><ellipse cx="187.0" cy="223.6" rx="1.1" ry="0.8" transform="rotate(13 187.0 223.6)"/><ellipse cx="136.5" cy="261.4" rx="1.0" ry="1.6" transform="rotate(51 136.5 261.4)"/><ellipse cx="264.3" cy="215.6" rx="2.1" ry="1.1" transform="rotate(-48 264.3 215.6)"/><ellipse cx="184.8" cy="197.4" rx="1.0" ry="1.1" transform="rotate(59 184.8 197.4)"/><ellipse cx="137.4" cy="213.3" rx="1.0" ry="1.6" transform="rotate(23 137.4 213.3)"/><ellipse cx="164.0" cy="192.2" rx="1.9" ry="1.4" transform="rotate(-59 164.0 192.2)"/><ellipse cx="230.4" cy="253.4" rx="1.6" ry="1.1" transform="rotate(-32 230.4 253.4)"/><ellipse cx="333.2" cy="148.8" rx="2.5" ry="1.3" transform="rotate(-31 333.2 148.8)"/><ellipse cx="260.4" cy="172.5" rx="2.3" ry="1.5" transform="rotate(-8 260.4 172.5)"/><ellipse cx="280.7" cy="176.0" rx="0.8" ry="0.7" transform="rotate(-32 280.7 176.0)"/><ellipse cx="184.4" cy="186.6" rx="2.0" ry="1.7" transform="rotate(-41 184.4 186.6)"/><ellipse cx="181.6" cy="245.5" rx="2.4" ry="1.3" transform="rotate(23 181.6 245.5)"/><ellipse cx="306.1" cy="96.2" rx="1.5" ry="1.0" transform="rotate(-51 306.1 96.2)"/><ellipse cx="273.4" cy="141.0" rx="1.4" ry="1.7" transform="rotate(1 273.4 141.0)"/><ellipse cx="225.8" cy="256.3" rx="1.2" ry="1.7" transform="rotate(-11 225.8 256.3)"/><ellipse cx="58.3" cy="200.8" rx="1.0" ry="1.3" transform="rotate(16 58.3 200.8)"/><ellipse cx="297.6" cy="228.8" rx="0.8" ry="0.6" transform="rotate(25 297.6 228.8)"/><ellipse cx="236.2" cy="278.6" rx="1.5" ry="0.7" transform="rotate(-58 236.2 278.6)"/><ellipse cx="314.2" cy="201.2" rx="2.4" ry="1.7" transform="rotate(2 314.2 201.2)"/><ellipse cx="223.8" cy="188.5" rx="0.9" ry="0.7" transform="rotate(54 223.8 188.5)"/><ellipse cx="192.1" cy="252.8" rx="2.0" ry="1.4" transform="rotate(9 192.1 252.8)"/><ellipse cx="263.6" cy="265.9" rx="2.5" ry="0.7" transform="rotate(-37 263.6 265.9)"/><ellipse cx="281.1" cy="225.1" rx="1.9" ry="1.1" transform="rotate(-12 281.1 225.1)"/><ellipse cx="293.6" cy="80.8" rx="2.4" ry="0.7" transform="rotate(-40 293.6 80.8)"/><ellipse cx="355.1" cy="163.4" rx="1.5" ry="1.0" transform="rotate(45 355.1 163.4)"/><ellipse cx="157.9" cy="219.9" rx="2.5" ry="1.1" transform="rotate(50 157.9 219.9)"/><ellipse cx="236.5" cy="161.5" rx="1.6" ry="1.0" transform="rotate(-8 236.5 161.5)"/><ellipse cx="327.2" cy="129.3" rx="1.0" ry="0.8" transform="rotate(5 327.2 129.3)"/><ellipse cx="320.9" cy="198.6" rx="1.6" ry="1.6" transform="rotate(-31 320.9 198.6)"/><ellipse cx="182.9" cy="215.0" rx="1.8" ry="1.0" transform="rotate(-3 182.9 215.0)"/><ellipse cx="229.6" cy="165.2" rx="1.7" ry="0.8" transform="rotate(30 229.6 165.2)"/><ellipse cx="344.1" cy="238.6" rx="2.2" ry="0.6" transform="rotate(26 344.1 238.6)"/><ellipse cx="293.2" cy="229.5" rx="2.2" ry="0.9" transform="rotate(-37 293.2 229.5)"/><ellipse cx="366.5" cy="253.9" rx="2.2" ry="0.8" transform="rotate(26 366.5 253.9)"/><ellipse cx="331.5" cy="164.1" rx="1.4" ry="1.6" transform="rotate(-4 331.5 164.1)"/><ellipse cx="263.3" cy="214.9" rx="2.4" ry="1.7" transform="rotate(-39 263.3 214.9)"/><ellipse cx="168.9" cy="252.6" rx="2.0" ry="1.7" transform="rotate(-57 168.9 252.6)"/><ellipse cx="290.7" cy="178.1" rx="2.6" ry="1.1" transform="rotate(49 290.7 178.1)"/><ellipse cx="134.4" cy="210.5" rx="1.2" ry="1.4" transform="rotate(-11 134.4 210.5)"/><ellipse cx="256.3" cy="171.1" rx="2.2" ry="0.8" transform="rotate(29 256.3 171.1)"/><ellipse cx="236.0" cy="215.0" rx="2.5" ry="1.3" transform="rotate(-33 236.0 215.0)"/><ellipse cx="216.3" cy="191.0" rx="2.5" ry="1.4" transform="rotate(9 216.3 191.0)"/><ellipse cx="312.3" cy="220.8" rx="2.4" ry="1.7" transform="rotate(10 312.3 220.8)"/><ellipse cx="282.5" cy="84.0" rx="1.4" ry="1.5" transform="rotate(-19 282.5 84.0)"/><ellipse cx="366.4" cy="168.1" rx="2.1" ry="1.8" transform="rotate(14 366.4 168.1)"/><ellipse cx="116.3" cy="192.4" rx="1.4" ry="1.7" transform="rotate(-7 116.3 192.4)"/><ellipse cx="159.4" cy="187.1" rx="2.0" ry="1.6" transform="rotate(15 159.4 187.1)"/><ellipse cx="220.2" cy="225.5" rx="1.2" ry="1.4" transform="rotate(42 220.2 225.5)"/><ellipse cx="317.5" cy="184.1" rx="1.1" ry="1.7" transform="rotate(39 317.5 184.1)"/><ellipse cx="95.7" cy="248.5" rx="1.2" ry="0.9" transform="rotate(56 95.7 248.5)"/><ellipse cx="70.0" cy="216.6" rx="1.0" ry="1.4" transform="rotate(-2 70.0 216.6)"/><ellipse cx="210.9" cy="231.9" rx="0.8" ry="1.4" transform="rotate(-44 210.9 231.9)"/><ellipse cx="268.0" cy="230.2" rx="1.0" ry="1.4" transform="rotate(11 268.0 230.2)"/><ellipse cx="123.5" cy="215.0" rx="1.0" ry="1.1" transform="rotate(53 123.5 215.0)"/><ellipse cx="281.0" cy="110.0" rx="2.6" ry="1.6" transform="rotate(-11 281.0 110.0)"/><ellipse cx="111.1" cy="228.5" rx="0.8" ry="1.2" transform="rotate(-55 111.1 228.5)"/><ellipse cx="197.3" cy="201.7" rx="1.3" ry="1.3" transform="rotate(-55 197.3 201.7)"/><ellipse cx="205.7" cy="292.5" rx="1.7" ry="1.5" transform="rotate(-20 205.7 292.5)"/><ellipse cx="303.4" cy="134.3" rx="2.0" ry="1.7" transform="rotate(-1 303.4 134.3)"/><ellipse cx="319.6" cy="147.0" rx="1.4" ry="0.7" transform="rotate(-26 319.6 147.0)"/><ellipse cx="258.0" cy="237.4" rx="2.1" ry="1.4" transform="rotate(-51 258.0 237.4)"/><ellipse cx="226.3" cy="273.9" rx="2.0" ry="0.7" transform="rotate(26 226.3 273.9)"/><ellipse cx="148.6" cy="212.2" rx="1.5" ry="1.4" transform="rotate(-17 148.6 212.2)"/><ellipse cx="368.6" cy="261.1" rx="1.3" ry="0.7" transform="rotate(-47 368.6 261.1)"/><ellipse cx="189.3" cy="237.4" rx="2.6" ry="1.3" transform="rotate(15 189.3 237.4)"/><ellipse cx="86.5" cy="216.7" rx="1.5" ry="1.8" transform="rotate(42 86.5 216.7)"/><ellipse cx="257.1" cy="260.2" rx="1.7" ry="0.8" transform="rotate(-51 257.1 260.2)"/><ellipse cx="56.6" cy="233.0" rx="2.4" ry="0.7" transform="rotate(-59 56.6 233.0)"/><ellipse cx="298.2" cy="159.6" rx="0.8" ry="1.6" transform="rotate(21 298.2 159.6)"/><ellipse cx="241.5" cy="179.5" rx="1.8" ry="1.2" transform="rotate(-9 241.5 179.5)"/><ellipse cx="229.6" cy="214.2" rx="1.1" ry="1.1" transform="rotate(13 229.6 214.2)"/><ellipse cx="297.5" cy="149.1" rx="2.0" ry="1.3" transform="rotate(-9 297.5 149.1)"/><ellipse cx="169.7" cy="221.0" rx="1.0" ry="1.6" transform="rotate(4 169.7 221.0)"/><ellipse cx="265.4" cy="263.4" rx="1.2" ry="1.5" transform="rotate(23 265.4 263.4)"/><ellipse cx="89.6" cy="203.9" rx="1.8" ry="1.7" transform="rotate(-17 89.6 203.9)"/><ellipse cx="307.3" cy="124.7" rx="2.3" ry="1.4" transform="rotate(-37 307.3 124.7)"/><ellipse cx="278.6" cy="232.7" rx="1.2" ry="1.1" transform="rotate(5 278.6 232.7)"/><ellipse cx="288.1" cy="238.5" rx="2.4" ry="1.3" transform="rotate(42 288.1 238.5)"/><ellipse cx="281.9" cy="252.8" rx="1.0" ry="1.2" transform="rotate(1 281.9 252.8)"/><ellipse cx="222.6" cy="177.5" rx="2.0" ry="1.3" transform="rotate(56 222.6 177.5)"/><ellipse cx="105.8" cy="180.9" rx="1.0" ry="1.0" transform="rotate(14 105.8 180.9)"/><ellipse cx="51.7" cy="231.1" rx="2.5" ry="1.2" transform="rotate(-46 51.7 231.1)"/><ellipse cx="299.5" cy="154.3" rx="1.5" ry="1.6" transform="rotate(36 299.5 154.3)"/><ellipse cx="221.9" cy="191.9" rx="1.4" ry="1.2" transform="rotate(38 221.9 191.9)"/><ellipse cx="154.8" cy="209.2" rx="0.9" ry="1.7" transform="rotate(-31 154.8 209.2)"/><ellipse cx="164.5" cy="229.3" rx="0.8" ry="1.8" transform="rotate(-7 164.5 229.3)"/><ellipse cx="322.2" cy="183.8" rx="0.9" ry="0.9" transform="rotate(-42 322.2 183.8)"/><ellipse cx="278.3" cy="260.8" rx="1.9" ry="0.9" transform="rotate(60 278.3 260.8)"/><ellipse cx="311.5" cy="135.2" rx="1.6" ry="0.6" transform="rotate(59 311.5 135.2)"/><ellipse cx="212.5" cy="182.9" rx="0.9" ry="1.6" transform="rotate(-51 212.5 182.9)"/><ellipse cx="260.6" cy="218.4" rx="1.9" ry="1.6" transform="rotate(56 260.6 218.4)"/><ellipse cx="286.7" cy="175.0" rx="1.2" ry="1.7" transform="rotate(2 286.7 175.0)"/><ellipse cx="166.9" cy="192.7" rx="1.4" ry="0.8" transform="rotate(15 166.9 192.7)"/><ellipse cx="112.9" cy="257.0" rx="2.1" ry="1.0" transform="rotate(-4 112.9 257.0)"/><ellipse cx="157.7" cy="182.7" rx="1.2" ry="0.9" transform="rotate(45 157.7 182.7)"/><ellipse cx="256.3" cy="215.3" rx="2.1" ry="0.8" transform="rotate(-14 256.3 215.3)"/><ellipse cx="165.4" cy="202.7" rx="1.9" ry="0.8" transform="rotate(24 165.4 202.7)"/><ellipse cx="190.5" cy="202.3" rx="1.0" ry="1.6" transform="rotate(35 190.5 202.3)"/><ellipse cx="122.5" cy="252.0" rx="1.1" ry="0.7" transform="rotate(56 122.5 252.0)"/><ellipse cx="351.7" cy="234.1" rx="1.4" ry="1.4" transform="rotate(21 351.7 234.1)"/><ellipse cx="355.6" cy="248.9" rx="1.7" ry="1.7" transform="rotate(37 355.6 248.9)"/><ellipse cx="279.0" cy="165.4" rx="1.5" ry="1.5" transform="rotate(52 279.0 165.4)"/><ellipse cx="296.5" cy="131.6" rx="1.8" ry="1.4" transform="rotate(56 296.5 131.6)"/><ellipse cx="205.5" cy="290.5" rx="2.0" ry="1.5" transform="rotate(51 205.5 290.5)"/><ellipse cx="339.3" cy="146.4" rx="1.1" ry="1.7" transform="rotate(6 339.3 146.4)"/><ellipse cx="310.4" cy="214.4" rx="1.2" ry="0.6" transform="rotate(-54 310.4 214.4)"/><ellipse cx="198.3" cy="273.3" rx="1.3" ry="1.2" transform="rotate(-48 198.3 273.3)"/><ellipse cx="244.3" cy="234.8" rx="0.8" ry="0.9" transform="rotate(17 244.3 234.8)"/><ellipse cx="212.2" cy="210.7" rx="2.2" ry="0.8" transform="rotate(44 212.2 210.7)"/><ellipse cx="257.8" cy="247.4" rx="2.6" ry="1.1" transform="rotate(53 257.8 247.4)"/><ellipse cx="151.0" cy="220.5" rx="1.4" ry="1.1" transform="rotate(25 151.0 220.5)"/><ellipse cx="227.7" cy="261.7" rx="1.4" ry="1.0" transform="rotate(-19 227.7 261.7)"/><ellipse cx="282.1" cy="267.3" rx="1.1" ry="1.8" transform="rotate(9 282.1 267.3)"/><ellipse cx="119.6" cy="212.7" rx="2.3" ry="1.2" transform="rotate(-56 119.6 212.7)"/><ellipse cx="270.3" cy="219.9" rx="1.8" ry="1.4" transform="rotate(7 270.3 219.9)"/><ellipse cx="167.0" cy="193.0" rx="1.3" ry="0.9" transform="rotate(7 167.0 193.0)"/><ellipse cx="72.6" cy="254.8" rx="2.6" ry="0.8" transform="rotate(15 72.6 254.8)"/><ellipse cx="80.7" cy="196.0" rx="1.2" ry="1.5" transform="rotate(-29 80.7 196.0)"/><ellipse cx="255.4" cy="239.0" rx="2.4" ry="1.6" transform="rotate(43 255.4 239.0)"/><ellipse cx="317.9" cy="192.7" rx="1.4" ry="1.5" transform="rotate(-7 317.9 192.7)"/><ellipse cx="280.0" cy="153.4" rx="1.2" ry="1.1" transform="rotate(49 280.0 153.4)"/><ellipse cx="172.2" cy="221.1" rx="2.3" ry="0.6" transform="rotate(-58 172.2 221.1)"/><ellipse cx="292.6" cy="129.3" rx="1.4" ry="1.0" transform="rotate(-9 292.6 129.3)"/><ellipse cx="137.2" cy="270.3" rx="1.7" ry="1.8" transform="rotate(35 137.2 270.3)"/><ellipse cx="208.9" cy="282.4" rx="2.2" ry="1.7" transform="rotate(-44 208.9 282.4)"/><ellipse cx="319.0" cy="264.1" rx="2.1" ry="0.7" transform="rotate(33 319.0 264.1)"/><ellipse cx="283.9" cy="253.9" rx="1.1" ry="1.7" transform="rotate(-44 283.9 253.9)"/><ellipse cx="145.9" cy="187.0" rx="1.4" ry="1.5" transform="rotate(-4 145.9 187.0)"/><ellipse cx="268.4" cy="223.0" rx="1.5" ry="1.0" transform="rotate(47 268.4 223.0)"/><ellipse cx="85.3" cy="207.5" rx="1.8" ry="1.4" transform="rotate(27 85.3 207.5)"/><ellipse cx="117.4" cy="195.3" rx="1.9" ry="1.3" transform="rotate(59 117.4 195.3)"/><ellipse cx="227.9" cy="261.5" rx="2.5" ry="0.7" transform="rotate(56 227.9 261.5)"/><ellipse cx="290.6" cy="79.2" rx="1.3" ry="1.8" transform="rotate(-36 290.6 79.2)"/><ellipse cx="231.5" cy="160.5" rx="1.1" ry="1.5" transform="rotate(46 231.5 160.5)"/><ellipse cx="265.8" cy="128.7" rx="1.7" ry="1.8" transform="rotate(23 265.8 128.7)"/><ellipse cx="334.6" cy="222.6" rx="1.0" ry="1.3" transform="rotate(-56 334.6 222.6)"/><ellipse cx="295.2" cy="165.6" rx="1.8" ry="1.4" transform="rotate(-7 295.2 165.6)"/><ellipse cx="277.8" cy="176.6" rx="1.8" ry="1.2" transform="rotate(18 277.8 176.6)"/><ellipse cx="233.8" cy="159.8" rx="2.3" ry="1.5" transform="rotate(44 233.8 159.8)"/><ellipse cx="274.7" cy="258.6" rx="0.9" ry="1.6" transform="rotate(20 274.7 258.6)"/><ellipse cx="370.1" cy="245.1" rx="1.3" ry="1.6" transform="rotate(43 370.1 245.1)"/><ellipse cx="162.1" cy="206.2" rx="1.8" ry="1.8" transform="rotate(-52 162.1 206.2)"/><ellipse cx="310.0" cy="156.3" rx="1.2" ry="0.8" transform="rotate(-16 310.0 156.3)"/><ellipse cx="279.8" cy="109.5" rx="2.0" ry="0.8" transform="rotate(54 279.8 109.5)"/><ellipse cx="345.5" cy="220.0" rx="2.4" ry="1.0" transform="rotate(-17 345.5 220.0)"/><ellipse cx="348.4" cy="170.5" rx="1.5" ry="1.4" transform="rotate(-15 348.4 170.5)"/><ellipse cx="168.3" cy="222.5" rx="1.7" ry="1.0" transform="rotate(19 168.3 222.5)"/><ellipse cx="265.7" cy="237.4" rx="1.1" ry="1.2" transform="rotate(-59 265.7 237.4)"/><ellipse cx="83.7" cy="183.9" rx="2.0" ry="1.3" transform="rotate(3 83.7 183.9)"/><ellipse cx="326.0" cy="131.7" rx="1.8" ry="0.6" transform="rotate(-29 326.0 131.7)"/><ellipse cx="249.8" cy="143.6" rx="1.8" ry="1.7" transform="rotate(-29 249.8 143.6)"/><ellipse cx="226.2" cy="184.9" rx="1.0" ry="0.8" transform="rotate(55 226.2 184.9)"/><ellipse cx="141.5" cy="248.6" rx="2.5" ry="1.5" transform="rotate(-15 141.5 248.6)"/><ellipse cx="255.9" cy="132.6" rx="1.2" ry="1.6" transform="rotate(-44 255.9 132.6)"/><ellipse cx="344.1" cy="204.1" rx="0.9" ry="0.8" transform="rotate(43 344.1 204.1)"/><ellipse cx="65.5" cy="174.3" rx="1.5" ry="1.1" transform="rotate(52 65.5 174.3)"/><ellipse cx="268.7" cy="250.9" rx="1.0" ry="1.3" transform="rotate(52 268.7 250.9)"/><ellipse cx="289.6" cy="172.3" rx="2.6" ry="0.8" transform="rotate(-52 289.6 172.3)"/><ellipse cx="232.1" cy="280.6" rx="1.3" ry="1.0" transform="rotate(-14 232.1 280.6)"/><ellipse cx="342.7" cy="202.1" rx="0.8" ry="1.2" transform="rotate(42 342.7 202.1)"/><ellipse cx="334.1" cy="120.0" rx="1.4" ry="1.6" transform="rotate(6 334.1 120.0)"/><ellipse cx="306.6" cy="262.4" rx="1.1" ry="1.1" transform="rotate(-54 306.6 262.4)"/><ellipse cx="262.8" cy="146.7" rx="1.1" ry="1.8" transform="rotate(-38 262.8 146.7)"/><ellipse cx="231.1" cy="190.8" rx="1.0" ry="1.1" transform="rotate(20 231.1 190.8)"/><ellipse cx="356.4" cy="226.5" rx="1.4" ry="0.9" transform="rotate(-14 356.4 226.5)"/><ellipse cx="194.0" cy="195.2" rx="1.3" ry="0.8" transform="rotate(-35 194.0 195.2)"/><ellipse cx="273.5" cy="232.8" rx="1.1" ry="1.7" transform="rotate(-19 273.5 232.8)"/><ellipse cx="201.4" cy="232.2" rx="2.0" ry="1.5" transform="rotate(-59 201.4 232.2)"/><ellipse cx="183.2" cy="236.8" rx="1.2" ry="0.8" transform="rotate(-38 183.2 236.8)"/><ellipse cx="330.6" cy="185.8" rx="0.8" ry="1.5" transform="rotate(28 330.6 185.8)"/><ellipse cx="296.7" cy="241.4" rx="2.2" ry="1.2" transform="rotate(-41 296.7 241.4)"/><ellipse cx="317.3" cy="234.0" rx="1.7" ry="1.2" transform="rotate(-36 317.3 234.0)"/><ellipse cx="117.4" cy="260.2" rx="2.1" ry="1.1" transform="rotate(-9 117.4 260.2)"/><ellipse cx="197.7" cy="243.5" rx="2.4" ry="1.6" transform="rotate(25 197.7 243.5)"/><ellipse cx="296.3" cy="144.3" rx="1.3" ry="1.3" transform="rotate(-34 296.3 144.3)"/><ellipse cx="141.7" cy="220.6" rx="2.0" ry="0.8" transform="rotate(-42 141.7 220.6)"/><ellipse cx="163.6" cy="221.2" rx="1.2" ry="1.4" transform="rotate(3 163.6 221.2)"/><ellipse cx="62.9" cy="184.2" rx="0.8" ry="1.5" transform="rotate(47 62.9 184.2)"/><ellipse cx="247.4" cy="243.1" rx="1.2" ry="1.2" transform="rotate(32 247.4 243.1)"/><ellipse cx="245.5" cy="142.1" rx="1.8" ry="0.7" transform="rotate(-60 245.5 142.1)"/><ellipse cx="163.0" cy="182.2" rx="1.4" ry="1.0" transform="rotate(-47 163.0 182.2)"/><ellipse cx="337.0" cy="254.8" rx="2.1" ry="1.1" transform="rotate(30 337.0 254.8)"/><ellipse cx="50.9" cy="203.9" rx="1.5" ry="1.4" transform="rotate(-10 50.9 203.9)"/><ellipse cx="299.3" cy="238.2" rx="1.4" ry="1.4" transform="rotate(-49 299.3 238.2)"/><ellipse cx="134.2" cy="195.5" rx="1.4" ry="0.9" transform="rotate(8 134.2 195.5)"/><ellipse cx="364.5" cy="236.5" rx="1.8" ry="0.9" transform="rotate(-49 364.5 236.5)"/><ellipse cx="322.4" cy="231.0" rx="1.2" ry="1.5" transform="rotate(-50 322.4 231.0)"/><ellipse cx="98.4" cy="261.8" rx="2.6" ry="1.1" transform="rotate(15 98.4 261.8)"/><ellipse cx="76.2" cy="201.8" rx="1.0" ry="1.4" transform="rotate(-34 76.2 201.8)"/><ellipse cx="124.5" cy="247.2" rx="1.7" ry="1.6" transform="rotate(39 124.5 247.2)"/><ellipse cx="310.7" cy="206.7" rx="1.1" ry="1.0" transform="rotate(52 310.7 206.7)"/><ellipse cx="324.6" cy="246.2" rx="1.2" ry="1.7" transform="rotate(22 324.6 246.2)"/><ellipse cx="292.4" cy="90.6" rx="0.8" ry="1.7" transform="rotate(-55 292.4 90.6)"/><ellipse cx="61.5" cy="209.3" rx="0.9" ry="1.6" transform="rotate(-54 61.5 209.3)"/><ellipse cx="247.0" cy="253.5" rx="1.7" ry="1.5" transform="rotate(-0 247.0 253.5)"/><ellipse cx="130.2" cy="229.2" rx="1.3" ry="0.7" transform="rotate(-4 130.2 229.2)"/><ellipse cx="321.2" cy="226.2" rx="1.1" ry="1.1" transform="rotate(17 321.2 226.2)"/><ellipse cx="306.6" cy="207.1" rx="2.0" ry="1.4" transform="rotate(-52 306.6 207.1)"/><ellipse cx="319.3" cy="253.3" rx="2.2" ry="1.6" transform="rotate(-31 319.3 253.3)"/><ellipse cx="248.7" cy="200.0" rx="2.4" ry="1.3" transform="rotate(52 248.7 200.0)"/><ellipse cx="276.2" cy="163.1" rx="1.9" ry="1.5" transform="rotate(-19 276.2 163.1)"/><ellipse cx="173.4" cy="285.5" rx="1.2" ry="1.4" transform="rotate(35 173.4 285.5)"/><ellipse cx="145.1" cy="209.4" rx="2.5" ry="1.7" transform="rotate(-3 145.1 209.4)"/><ellipse cx="89.2" cy="196.4" rx="0.9" ry="1.1" transform="rotate(-4 89.2 196.4)"/></g><path d="M357.7,165.9 358.5,168.8 358.8,171.8 358.3,174.8 357.6,177.7 356.7,180.6M352.9,250.7 353.1,247.7 353.4,244.7 353.7,241.8 353.9,238.8 354.2,235.8M273.8,238.7 276.7,239.7 279.7,239.9 282.7,240.0 285.7,239.9 288.7,239.9 291.6,239.4 294.5,238.5 297.4,237.9M292.7,227.6 290.0,226.2 287.2,225.2 284.4,224.2 281.6,223.0 278.8,221.9 276.2,220.4 273.3,219.5 270.4,219.1 267.4,218.8M299.7,241.7 296.7,241.3 293.8,240.6 291.1,239.4 288.3,238.3 285.4,237.3 282.5,236.9M268.2,137.9 269.2,140.8 270.2,143.6 271.7,146.2 273.3,148.7 274.0,151.6 274.2,154.6M267.4,184.8 270.4,185.2 273.3,185.8 276.1,186.9 278.8,188.4 281.7,189.2 284.6,189.8M222.9,269.9 220.1,271.0 217.4,272.2 214.4,273.0 211.6,274.0 208.6,274.3 205.7,274.8 202.8,275.6 199.8,276.0 196.9,276.5M208.0,213.1 209.8,215.5 211.4,218.0 213.3,220.4 215.0,222.8 216.4,225.5 217.8,228.1 219.0,230.9M199.1,261.0 200.9,263.4 202.5,265.9 204.6,268.1 206.9,270.1 208.9,272.2 211.2,274.2M295.5,163.3 293.6,161.0 291.7,158.7 289.7,156.4 287.9,154.0 285.8,151.9 283.2,150.4 281.2,148.2M61.8,197.1 59.4,198.9 56.8,200.5 54.2,201.8 51.9,203.7 50.3,206.3 49.1,209.0 48.4,212.0 47.6,214.9 47.3,217.8M376.1,240.0 378.5,238.2 381.1,236.8 383.5,235.0M185.9,280.9 183.1,280.0 180.3,278.9 177.3,278.3 174.5,277.4 171.8,276.1M245.2,165.1 247.5,167.0 250.2,168.4 252.8,169.9 255.4,171.2 258.1,172.7 260.1,174.9M270.3,269.5 271.4,266.7 272.1,263.8 272.5,260.8 272.1,257.8 271.1,255.0 270.0,252.2 269.3,249.3 267.7,246.7M201.8,244.8 199.8,247.0 197.6,249.1 196.1,251.6 194.7,254.3 192.7,256.5 190.6,258.6 188.2,260.5 185.8,262.3M263.8,151.0 262.1,148.6 260.2,146.2 259.4,143.4 257.9,140.7 256.2,138.3M329.3,135.1 327.1,133.0 324.7,131.2 322.2,129.6 319.4,128.6M118.3,267.7 121.1,266.6 123.8,265.5 126.7,264.5 129.5,263.4 132.2,262.2 135.0,261.0M200.5,226.8 198.3,228.9 196.0,230.8 193.6,232.6 191.2,234.4 188.9,236.3M317.3,250.6 315.0,252.6 312.7,254.5 310.6,256.6 308.4,258.7 306.3,260.9 304.3,263.1 302.7,265.6 300.8,268.0 298.9,270.2M187.5,260.6 188.4,257.7 189.1,254.8 190.0,252.0 190.1,249.0 189.1,246.2 188.0,243.3 187.1,240.5 186.4,237.6M361.1,253.8 358.1,254.0 355.2,253.5 352.2,253.7 349.2,253.1" stroke="#E1B2A5" stroke-width="0.8" stroke-linejoin="round" fill="none" opacity="0.85"/><path d="M342.6,193.1L344.3,192.3M329.5,190.4L332.1,190.8M298.3,110.7L298.9,112.1M76.0,237.6L77.4,236.0M317.1,120.3L319.6,121.5M158.3,200.5L159.3,198.7M163.4,269.8L165.8,271.4M194.1,201.9L196.8,202.7M311.0,202.4L312.2,201.5M272.0,267.9L271.9,265.0M294.7,179.5L296.1,179.8M288.5,253.9L290.0,251.6M305.1,124.7L306.1,126.0M181.3,285.4L182.1,282.6M236.5,204.2L238.2,203.1M208.3,287.8L210.7,286.9M87.6,193.6L89.0,192.0M381.0,159.2L383.0,161.2M238.1,211.6L240.5,211.1M275.0,212.8L275.8,210.9M277.7,200.0L279.7,199.3M338.3,120.9L339.4,123.1M301.5,224.1L302.8,224.7M223.6,226.0L224.8,225.4M142.9,185.7L143.8,184.5M282.5,246.0L283.7,245.0M112.1,243.9L113.3,243.3M56.9,237.9L58.8,236.3M259.2,139.6L260.7,141.8M272.2,180.6L274.5,180.4M308.2,242.3L308.9,241.3M230.6,150.1L231.0,152.2M164.7,255.8L166.1,256.8M343.4,169.1L344.5,170.6M54.6,223.1L57.2,222.0M223.2,246.6L224.6,248.5M269.8,123.0L271.1,125.1M349.5,218.8L349.2,216.5M272.8,239.8L274.0,239.4M299.3,194.5L300.6,194.1M62.6,199.7L64.4,198.5M198.8,275.7L199.3,274.1M177.8,229.4L180.4,230.5M347.2,176.9L347.9,178.5M157.1,214.2L158.4,213.8M318.4,222.7L319.8,221.6M209.7,260.9L211.1,260.9M164.2,195.9L165.6,195.5M169.0,239.6L170.9,238.1M95.0,244.3L97.9,243.8M46.2,218.8L48.7,219.7M75.8,199.6L76.7,197.7M219.0,183.2L221.9,182.5M371.6,158.4L371.9,159.7M224.0,189.3L225.8,188.2M204.4,285.3L207.0,284.9M83.5,254.7L84.8,253.8M320.7,89.9L322.2,91.8M219.4,214.5L221.7,214.7M283.5,82.4L285.6,83.4M314.5,222.8L316.4,222.7M356.5,146.4L357.1,147.6M345.8,221.5L346.5,220.5M201.8,236.8L202.5,235.0M165.2,182.8L167.9,183.1M303.8,224.7L305.4,224.4M319.6,135.1L319.9,136.4M291.5,202.3L293.6,200.8M121.5,260.7L123.8,261.2M207.3,196.5L208.9,197.4M129.6,200.9L132.1,199.4M151.8,242.3L153.3,242.6M331.7,250.9L333.1,250.2M89.6,240.0L92.4,241.0M292.4,96.1L294.9,97.5M308.3,113.9L308.9,115.2M144.2,223.1L145.8,221.9M216.5,194.3L217.4,192.0M169.4,192.2L170.6,190.3M267.9,165.8L269.8,168.1M128.5,258.2L130.6,257.1M368.0,174.7L369.5,173.7M357.2,180.1L358.4,177.4M232.5,163.8L232.4,165.2M305.7,157.0L307.0,158.6M267.2,270.8L267.9,269.6M220.2,272.4L221.1,270.6M231.6,151.3L233.6,153.0M149.2,256.2L151.1,254.4M262.9,139.8L264.7,141.0M250.0,247.0L250.8,244.8M199.7,222.5L202.0,223.6M250.8,166.0L252.4,168.0M319.7,127.6L320.5,128.6M107.3,179.7L109.1,179.8M305.6,269.5L307.3,269.1M153.8,186.7L156.7,186.9M325.9,241.7L328.6,242.3M61.3,180.5L64.0,180.2M329.4,213.9L332.0,213.1M114.3,262.6L114.7,260.6M111.9,234.8L113.9,234.4M58.3,179.2L59.7,177.2M289.1,253.5L290.9,254.2M315.7,145.0L316.7,146.2M99.1,215.0L100.7,215.1M319.0,234.5L321.0,234.9M274.0,214.7L274.9,212.9M221.1,174.9L222.9,175.7M291.2,195.4L291.1,192.8M298.1,144.7L298.3,146.1M283.0,82.5L284.1,84.6M343.8,222.5L344.8,221.4M287.1,233.9L289.6,234.4M277.5,193.8L279.7,192.3M253.9,165.1L255.1,166.2M175.1,255.1L177.4,253.5M201.6,198.5L202.3,197.3M295.9,160.2L297.3,162.4M310.2,162.1L310.8,163.5M319.5,241.2L322.2,241.7M221.4,253.7L222.2,252.8M221.1,256.9L222.4,254.9M150.3,238.4L149.2,235.9M282.3,222.1L283.8,221.4M160.0,250.3L161.5,249.6M150.2,270.6L152.5,270.8M279.5,243.8L281.6,242.4M240.6,277.5L241.9,277.4M122.8,234.7L123.6,232.4M315.4,264.7L316.9,266.2M364.5,252.3L366.5,250.4M306.4,261.3L307.5,260.7M169.6,212.7L170.7,211.0M266.8,143.9L268.6,145.4M356.0,203.7L357.7,203.1M159.9,262.0L162.4,260.7M111.1,197.1L112.6,194.6M273.8,267.5L275.1,266.0M222.3,241.2L222.9,240.0M321.8,209.2L324.6,209.5M302.3,109.7L303.4,111.7M222.6,291.5L222.8,290.3M350.3,209.9L352.0,209.2M270.3,270.1L271.6,270.3M55.2,187.4L58.0,187.6M343.0,234.3L344.7,233.3M91.5,173.2L92.3,172.3M85.2,228.5L86.3,227.3M314.9,254.3L317.0,252.4M95.5,250.0L97.2,247.9M296.5,99.3L297.7,100.9M337.9,169.3L338.9,170.0M349.2,268.6L351.6,267.3M238.0,167.0L239.0,168.2M232.1,165.0L233.2,167.2M265.1,174.3L266.5,174.4M338.7,245.6L340.9,246.1M223.5,180.9L224.1,179.4M300.9,149.0L302.3,151.0M339.9,219.7L339.9,217.5M207.5,188.6L209.9,188.1M271.1,240.4L273.1,241.5M280.8,163.3L281.8,164.7M234.6,220.5L237.1,219.1M326.9,173.4L328.6,173.2M234.5,251.6L235.1,250.3M127.8,209.8L129.2,211.5M328.6,214.1L329.7,215.4M214.4,283.9L216.2,283.3M301.9,106.1L303.2,107.7M87.1,197.7L90.0,197.6M215.5,238.5L216.4,236.2M154.2,229.4L155.7,229.4M44.0,224.9L46.8,224.5M322.2,215.0L324.1,213.6M196.5,213.0L198.4,213.9M264.7,222.7L265.8,220.9M320.4,190.8L320.7,189.3M268.5,187.0L271.2,185.9M340.9,155.1L342.0,156.6M275.1,148.9L276.6,150.4M111.8,223.2L113.8,222.2M153.4,218.4L155.4,217.4M324.6,149.4L326.9,151.2M213.8,259.5L214.7,258.6M219.2,231.5L220.5,232.0M171.4,270.1L173.5,269.2M192.8,271.4L194.7,270.7M318.2,120.5L319.6,122.1M216.3,192.8L218.5,192.0M136.6,218.9L137.0,217.2M282.0,230.4L284.6,229.7M328.8,140.2L330.2,142.0M347.5,238.7L350.2,238.9M218.9,174.6L219.9,173.8M65.0,250.9L67.3,250.7M140.8,262.3L142.5,260.8M309.4,218.6L310.9,218.4M271.5,183.0L272.9,181.4M150.7,271.9L152.3,273.2M71.6,187.2L73.0,184.5M154.9,203.6L156.7,203.6M201.2,286.9L202.9,287.9M169.0,247.5L170.9,248.3M292.0,233.5L293.6,231.9M61.7,190.4L62.7,189.0M246.0,224.3L246.4,222.7M286.2,190.7L287.4,188.8M100.4,202.1L103.2,203.1M247.1,239.0L248.8,239.8M251.2,230.7L252.7,229.5M221.7,170.6L222.9,170.2M227.8,160.3L229.0,161.8M367.9,157.1L368.9,158.2M75.8,252.4L77.1,251.7M147.2,201.1L149.3,201.4M306.6,236.7L308.2,236.7M164.6,246.9L166.6,246.9M129.9,248.2L130.9,245.8" stroke="#E1B2A5" stroke-width="1.0" fill="none" opacity="0.85"/><path d="M284.0,92.0 292.0,104.0 300.0,118.0 308.0,132.0 316.0,146.0 324.0,160.0" fill="none" stroke="#E1B2A5" stroke-width="1.3" stroke-linejoin="round"/><path d="M305.0,96.0 312.0,108.0 320.0,122.0 328.0,136.0" fill="none" stroke="#E1B2A5" stroke-width="1.1" stroke-linejoin="round"/><path d="M262.0,132.0 272.0,142.0 282.0,152.0 292.0,162.0" fill="none" stroke="#E1B2A5" stroke-width="1.0" stroke-linejoin="round"/><path d="M330.0,140.0 342.0,150.0 354.0,160.0 366.0,170.0" fill="none" stroke="#E1B2A5" stroke-width="1.1" stroke-linejoin="round"/><path d="M183.6,229.3 195.0,223.0 207.0,216.5 218.0,211.0 230.0,205.2" fill="none" stroke="#E1B2A5" stroke-width="0.8" stroke-linejoin="round"/><path d="M130.0,208.0 150.0,210.0 170.0,212.0 190.0,214.0 210.0,213.0" fill="none" stroke="#E1B2A5" stroke-width="0.6" stroke-linejoin="round"/><path d="M290.0,105.0 300.0,120.0 310.0,135.0 318.0,150.0" fill="none" stroke="#E1B2A5" stroke-width="0.9" stroke-linejoin="round"/><path d="M296.0,95.0 304.0,108.0 312.0,122.0" fill="none" stroke="#E1B2A5" stroke-width="0.8" stroke-linejoin="round"/><path d="M330.0,125.0 340.0,138.0 350.0,150.0" fill="none" stroke="#E1B2A5" stroke-width="0.8" stroke-linejoin="round"/><path d="M320.0,150.0 335.0,160.0 350.0,168.0 365.0,175.0" fill="none" stroke="#E1B2A5" stroke-width="0.8" stroke-linejoin="round"/><path d="M250.0,150.0 262.0,158.0 272.0,166.0" fill="none" stroke="#E1B2A5" stroke-width="0.7" stroke-linejoin="round"/><path d="M90.0,200.0 100.0,215.0 108.0,230.0" fill="none" stroke="#E1B2A5" stroke-width="0.6" stroke-linejoin="round"/><path d="M58.0,180.0 68.0,184.0 78.0,186.0" fill="none" stroke="#E1B2A5" stroke-width="0.6" stroke-linejoin="round"/><path d="M230.0,240.0 245.0,250.0 258.0,262.0" fill="none" stroke="#E1B2A5" stroke-width="0.6" stroke-linejoin="round"/><path d="M317.2,175.0L318.4,174.3M221.4,281.7L222.6,280.6M301.3,240.0L302.5,240.0M224.6,241.8L224.7,240.8M204.6,231.4L205.8,230.6M275.1,148.5L275.7,149.2M186.6,262.7L187.4,262.5M263.0,159.7L263.9,161.1M248.7,273.3L250.0,272.9M295.4,250.7L297.3,250.2M98.1,259.9L98.3,258.9M83.6,196.0L84.9,196.2M274.4,133.0L274.6,133.9M146.1,206.0L148.0,206.6M305.9,199.3L308.0,199.6M319.4,262.0L320.6,261.0M298.4,103.0L300.0,104.5M259.8,221.6L260.7,221.8M262.9,175.1L264.0,173.7M350.5,195.8L352.1,195.9M141.8,259.4L143.0,259.4M281.7,237.5L283.6,236.8M291.8,176.4L293.5,176.5M192.0,238.5L193.2,238.3M234.0,150.9L235.2,151.9M146.3,251.7L147.5,251.6M206.7,235.2L207.5,234.8M267.7,233.9L268.6,233.0M58.0,225.3L59.0,224.8M90.9,249.5L92.3,249.1M318.4,238.6L319.4,238.5M48.7,234.3L49.8,234.3M244.9,202.8L246.6,202.1M205.7,246.8L207.7,246.5M80.4,202.7L80.4,201.8M180.2,220.8L181.4,220.1M264.9,191.3L265.8,190.2M294.0,179.5L294.7,179.0M275.5,178.5L276.7,177.4M205.7,287.6L206.5,287.0M310.0,240.8L311.0,241.7M350.8,229.5L351.4,228.8M200.4,279.7L201.7,278.5M72.3,192.5L73.3,192.6M140.4,195.8L142.3,195.2M253.3,199.4L254.5,199.6M311.0,212.9L312.0,212.1M86.3,225.4L86.3,224.4M107.6,193.7L108.4,193.0M290.5,111.3L291.4,113.1M172.2,272.4L172.9,271.8M232.9,252.9L234.4,253.0M103.7,256.2L104.0,254.3M273.8,268.4L274.9,267.9M228.9,234.6L230.0,234.0M387.3,250.7L388.8,249.3M337.0,224.6L337.9,224.2M344.0,185.6L344.9,184.3M261.7,207.1L262.5,206.4M44.8,213.1L45.3,212.1M264.6,209.3L266.6,209.2M44.3,235.0L45.1,235.0M289.4,224.7L290.1,224.0M274.6,182.5L276.0,183.3M354.8,159.6L356.2,160.9M194.8,251.1L196.0,250.3M161.8,183.9L162.6,182.1M291.7,164.2L292.6,164.9M214.8,277.7L216.7,277.5M125.5,202.7L127.3,201.6M250.1,262.8L251.4,261.2M145.4,251.0L146.3,251.5M235.6,200.2L236.6,200.6M204.7,261.1L205.7,259.6M193.3,263.5L195.3,263.1M150.6,218.4L152.0,218.3M296.7,261.8L297.7,261.8M269.3,183.2L270.2,183.5M196.4,273.0L197.6,272.2M263.3,208.0L265.0,206.7M73.6,254.3L74.9,254.2M126.9,256.0L128.6,255.1M57.7,202.5L58.8,202.4M128.4,260.5L129.3,259.8M185.0,242.9L186.8,242.4M176.1,220.4L177.4,219.4M259.2,254.9L260.7,254.2M228.1,244.0L228.4,242.8M332.5,121.5L333.4,123.5M129.6,184.0L130.5,183.6M105.3,256.7L107.0,256.7M296.2,191.2L296.9,190.4M142.8,252.0L143.6,251.5M143.8,248.9L145.3,247.4M290.6,213.0L291.5,211.2M78.9,179.1L79.4,177.7M370.3,159.1L371.2,160.7M172.5,190.4L174.1,190.8M336.9,206.2L338.5,204.8M256.1,155.2L257.2,156.3M134.7,261.3L135.5,261.0M257.3,222.9L259.1,222.2M364.6,173.5L366.3,172.7M182.1,188.4L183.6,187.1M329.0,156.0L329.5,156.7M217.7,217.6L219.2,216.4M235.1,209.5L237.2,209.5M195.2,205.6L196.4,205.3M273.2,142.7L273.9,144.0M338.4,266.9L340.1,266.3M140.5,202.7L141.7,203.0M234.6,217.3L236.0,216.8M70.1,190.4L71.0,189.6M365.7,189.2L367.3,189.3M377.4,265.5L378.9,265.0M82.5,255.2L83.1,254.7M129.0,232.3L130.0,230.5M271.2,141.3L271.8,143.2M102.7,218.7L103.7,216.9M381.9,161.8L383.0,163.2M107.5,223.8L107.0,222.7M273.8,163.8L274.8,164.7M65.6,226.8L66.6,227.0M165.3,248.8L167.4,248.6M227.5,181.6L228.5,181.7M264.3,250.1L264.8,249.4M377.5,164.4L378.3,165.6M187.6,223.1L188.5,223.5M57.0,202.1L58.4,203.4M249.1,215.0L250.7,214.7M354.8,183.2L356.9,183.1M390.9,249.6L392.6,249.7M282.8,86.0L283.5,86.5M127.4,240.7L129.3,239.8M191.5,192.4L192.2,191.0M368.2,228.2L369.2,228.0M77.2,240.5L77.9,239.7M111.9,224.0L112.2,222.9M156.1,237.3L157.7,236.2M304.5,187.5L305.3,187.1M158.3,215.8L159.9,214.7M320.5,171.4L321.6,171.0M339.9,264.5L341.4,264.5M184.0,288.5L184.8,287.2M71.6,222.1L72.3,220.8M44.9,238.0L46.2,237.4M312.9,263.7L313.9,262.8M251.5,223.5L252.2,223.8M207.6,274.7L208.2,274.0M263.1,209.2L264.0,209.3M334.5,163.3L334.9,165.0M191.6,271.8L192.3,270.3M301.1,142.5L301.8,143.5M292.0,231.4L293.6,230.4M300.2,261.5L302.1,260.5M314.4,212.2L314.5,211.2M326.3,256.9L328.4,257.1M197.4,262.6L199.5,262.5M226.2,252.0L228.1,251.8M282.1,241.3L283.2,240.8M343.7,177.9L345.5,177.0M194.3,192.1L195.1,190.3M291.3,162.0L291.8,163.3M327.0,209.4L328.0,209.7M258.3,157.7L258.6,158.5M152.2,239.3L154.2,240.0M281.3,254.6L281.7,253.8M78.3,163.9L79.2,163.3M248.3,172.6L249.2,171.7M323.4,142.2L324.1,143.8M58.9,174.6L59.5,173.4M119.4,230.9L121.1,230.7M160.3,218.1L160.5,217.2M153.3,259.9L154.2,259.1M350.7,247.9L351.4,246.4M292.3,252.8L293.0,251.9M229.6,185.4L230.8,186.0M299.3,231.0L299.8,229.3M69.5,216.6L70.6,216.7M170.0,222.6L171.5,221.8M306.4,243.6L307.8,244.2M264.4,128.2L265.6,129.5M49.8,187.2L50.2,185.4M361.3,166.0L361.9,166.7M300.6,113.6L301.1,114.4M226.4,241.2L227.7,241.0M346.8,164.1L348.2,165.8M132.7,179.7L133.3,178.8M360.9,243.5L362.8,243.9M328.0,198.4L329.3,198.7M260.1,145.7L260.4,147.0M264.5,157.4L265.3,158.7M111.5,216.5L112.2,215.4M243.7,242.7L244.9,241.7M286.1,215.8L287.1,214.7M270.5,208.6L271.1,207.6M357.1,147.4L357.8,148.5M284.3,105.6L285.9,106.6M325.3,214.0L326.7,213.7M89.2,167.8L90.0,166.9M170.5,206.0L172.4,206.1M185.3,218.3L186.5,217.5M358.4,245.5L359.0,244.4M299.2,124.7L300.2,125.2M317.2,252.6L318.8,251.8M269.9,137.5L270.5,138.9M168.0,217.4L168.9,216.4M222.9,257.3L223.8,257.5M187.8,213.9L189.2,213.3M129.2,228.4L130.3,228.3M107.0,191.4L108.5,191.7M347.2,158.0L347.5,158.8M276.4,126.5L277.0,127.1M162.0,183.5L163.3,182.8M263.9,190.2L265.1,190.1M246.8,149.3L247.1,150.2M209.0,249.6L209.8,249.4M213.5,183.5L214.5,184.1M217.2,291.3L218.9,289.9M117.2,245.5L117.8,244.4M237.9,218.1L238.7,217.6M261.7,254.2L263.1,253.8M330.3,259.7L331.3,259.4M160.4,204.5L161.4,204.4M298.4,89.1L299.8,90.6M226.3,184.7L227.2,182.9M274.8,131.1L275.4,132.5M46.0,217.1L47.3,215.9M133.7,184.1L134.1,182.8M287.4,187.2L289.3,188.3M215.9,204.9L217.2,205.3M85.6,246.9L85.8,245.9M316.9,164.2L317.7,166.1M343.5,194.5L344.1,193.7M208.8,268.6L209.2,267.6M183.8,242.7L184.0,241.0M88.1,226.9L88.5,226.1M156.3,276.2L158.1,275.7M305.8,149.5L307.3,150.0M89.8,227.4L90.5,226.9M244.8,168.2L245.4,169.7M223.6,190.4L224.6,190.1M255.9,173.7L257.1,172.9M49.4,200.9L50.4,200.7M54.1,232.6L56.2,233.0M277.8,175.8L278.6,174.1M103.2,254.7L104.4,254.3M331.2,232.6L332.2,231.0M298.0,175.3L298.4,173.2M312.0,104.0L313.3,105.2M217.7,234.4L219.0,234.9M68.3,211.6L70.1,210.7M299.0,190.1L299.8,190.6M99.0,187.0L100.6,185.9M365.8,227.7L366.0,226.5M289.4,122.1L290.1,123.6M248.2,173.9L249.2,174.2M331.3,142.6L332.9,143.9M334.3,218.3L335.5,218.5M331.6,188.7L332.8,189.8" stroke="#4B69AA" stroke-width="0.9" fill="none" opacity="0.6"/><path d="M37.2,209.2 46.0,210.0 52.4,207.6 57.2,206.0 62.0,202.8 67.6,198.8 74.0,195.6 82.0,192.4 88.4,188.4 94.8,185.2 102.9,185.6 109.3,186.0 114.1,185.2 118.1,182.0 122.1,181.2 130.1,179.6 138.1,178.0 146.1,177.2 154.0,177.2 158.0,177.2 164.4,180.4 171.6,183.6 179.6,185.2 184.4,190.0 190.0,194.0 194.0,198.0 202.0,200.4 212.4,201.6 220.5,202.0 226.9,204.0 236.5,205.2 242.9,206.8 250.9,204.4 260.5,202.8 270.0,202.0 279.0,199.0 288.0,195.0 296.0,190.0 305.0,188.0 312.0,187.5 318.0,190.0 326.0,192.0 336.0,191.0 346.0,189.5 356.0,189.0 362.0,190.0" fill="none" stroke="#3B5BA5" stroke-width="1.4" stroke-linejoin="round" stroke-linecap="round" stroke-dasharray="3 0.8" opacity="0.9"/><path d="M77.2,155.6 82.0,158.0 85.2,164.4 89.2,170.8 91.6,177.2 94.8,183.6" fill="none" stroke="#3B5BA5" stroke-width="1.0" stroke-linejoin="round" stroke-linecap="round" stroke-dasharray="3 0.8" opacity="0.8"/><path d="M71.6,164.4 77.2,166.0 82.0,170.8 85.2,176.4 88.4,182.0 93.2,185.2" fill="none" stroke="#3B5BA5" stroke-width="1.0" stroke-linejoin="round" stroke-linecap="round" stroke-dasharray="3 0.8" opacity="0.8"/><path d="M107.9,208.0 118.0,207.0 130.8,206.9 141.0,211.0 151.0,215.8 158.0,219.0 166.3,222.0 174.0,224.0 181.5,225.9 190.0,227.5 199.3,228.4 201.7,222.0 214.0,219.0 227.1,219.6 240.0,219.0 252.3,218.3 265.0,216.0 277.8,214.5 290.0,213.5 303.1,213.2 316.0,213.8 328.5,214.5 340.0,217.0 353.8,222.0" fill="none" stroke="#3B5BA5" stroke-width="0.9" stroke-linejoin="round" stroke-linecap="round" stroke-dasharray="3 0.8" opacity="0.5"/><path d="M199.3,228.4 199.8,238.0 199.3,247.4 195.0,256.0 191.6,262.6 186.0,268.0 181.5,272.8 177.0,280.0 173.9,285.5" fill="none" stroke="#3B5BA5" stroke-width="0.9" stroke-linejoin="round" stroke-linecap="round" stroke-dasharray="3 0.8" opacity="0.35"/><path d="M130.8,206.9 129.5,216.0 128.3,227.2 128.3,242.4 133.3,252.5 137.0,262.0 140.9,270.3" fill="none" stroke="#3B5BA5" stroke-width="0.9" stroke-linejoin="round" stroke-linecap="round" stroke-dasharray="3 0.8" opacity="0.35"/><path d="M295.5,185.5 310.0,183.0 325.4,180.8 340.0,179.0 353.4,178.0 365.0,178.0 372.0,178.0" fill="none" stroke="#3B5BA5" stroke-width="0.9" stroke-linejoin="round" stroke-linecap="round" stroke-dasharray="3 0.8" opacity="0.7"/><path d="M283.0,100.0 287.0,108.0 293.0,118.0 298.0,128.0" fill="none" stroke="#3B5BA5" stroke-width="0.8" stroke-linejoin="round" stroke-linecap="round" stroke-dasharray="3 0.8" opacity="0.6"/><path d="M300.0,115.0 306.0,125.0 312.0,136.0 318.0,146.0 324.0,156.0 330.0,166.0" fill="none" stroke="#3B5BA5" stroke-width="0.8" stroke-linejoin="round" stroke-linecap="round" stroke-dasharray="3 0.8" opacity="0.6"/><path d="M250.0,160.0 258.0,168.0 266.0,176.0 274.0,184.0" fill="none" stroke="#3B5BA5" stroke-width="0.7" stroke-linejoin="round" stroke-linecap="round" stroke-dasharray="3 0.8" opacity="0.5"/><path d="M229.3,199.4 236.0,198.3 245.0,197.6 255.0,197.2 262.0,197.6 263.0,198.8 258.0,200.4 248.0,201.0 238.0,200.8 231.0,200.2Z" fill="#fff"/></g></g><path id="c0" d="M337.1,223.2L335.6,224.4M345.5,233.7L346.8,233.8M359.6,188.8L359.7,189.7M329.2,214.5L330.1,214.6M348.6,191.5L348.0,192.0M335.0,190.0L336.8,190.0M302.5,194.8L300.7,194.9M328.5,219.7L330.1,220.9M358.9,199.1L359.3,199.8M295.8,186.0L296.7,187.2M312.9,199.7L311.8,200.4M310.7,209.2L310.3,209.7M346.1,229.4L347.8,229.5M314.4,214.8L315.1,214.8M361.8,234.3L362.3,235.3M327.3,225.4L328.9,225.9M350.0,230.2L351.9,230.4M292.0,200.9L291.3,202.6M329.6,199.8L330.0,200.5M291.1,190.4L290.0,192.0M298.2,185.6L296.9,185.7M318.4,195.2L317.8,196.9M321.3,206.0L323.2,206.4M355.1,189.5L353.8,190.9M336.4,226.1L337.5,226.5M309.7,207.9L307.9,207.9M325.0,222.6L325.0,223.6M317.5,190.1L318.3,192.0M325.5,201.5L326.4,201.8M349.3,229.9L350.0,231.5M349.5,220.5L348.7,221.9M314.1,221.3L314.9,222.2M348.1,220.2L349.2,221.8M337.9,214.9L339.3,215.0M305.0,219.1L305.2,220.8M338.0,226.2L338.7,227.5M345.6,227.8L346.4,229.3M358.0,220.8L356.1,220.9M326.8,211.7L328.3,212.6M342.4,222.3L341.8,222.9M349.8,214.4L349.3,215.5M336.7,224.9L336.1,226.3M286.2,191.1L286.5,192.5M302.5,220.4L302.3,221.0M323.2,195.4L324.0,195.5M310.4,192.8L310.9,193.2M323.3,203.2L322.8,204.6M306.6,205.2L308.2,205.9M335.6,187.7L335.5,188.7M353.4,205.6L352.1,206.5" stroke="#3B5BA5" stroke-width="1.0" stroke-linecap="round" fill="none" opacity="0.6"/><path id="c1" d="M322.6,213.6L321.4,213.9M326.1,214.9L327.2,215.7M336.4,226.5L337.4,226.8M343.2,185.2L341.3,185.4M338.7,216.7L339.2,217.0M328.0,186.0L328.8,186.5M321.0,228.6L321.0,230.1M325.9,218.9L326.0,219.9M354.3,221.5L354.8,222.3M308.7,186.5L307.8,187.3M356.0,204.1L354.2,204.4M361.0,208.8L359.9,208.9M348.9,197.7L349.9,198.0M293.6,196.4L294.2,196.7M351.1,192.2L350.8,193.4M299.3,223.0L300.7,223.6M293.4,205.8L294.2,206.4M365.0,226.4L366.1,227.9M302.4,204.4L301.0,205.0M302.3,196.9L301.5,197.6M308.2,186.8L309.6,187.2M304.2,215.5L304.7,216.6M331.9,230.4L332.6,230.9M360.0,227.7L360.6,228.3M345.3,234.2L346.9,235.3M358.0,215.8L358.2,216.6M303.4,221.1L304.6,222.4M333.4,198.7L334.8,199.6M289.9,194.7L289.6,196.4M336.0,198.3L335.2,198.5M285.3,197.5L285.5,198.1M298.9,202.9L298.7,203.7M341.8,215.0L342.4,215.3M324.0,222.3L325.0,224.0M291.0,212.4L289.7,213.7M346.7,221.1L345.2,222.3M314.4,220.4L312.7,221.0M319.7,226.2L318.4,226.8M336.7,203.3L336.3,204.7M367.8,231.0L367.1,231.8M345.6,214.1L345.9,215.8M324.8,195.1L324.0,196.2M308.9,220.0L309.6,220.5M359.9,218.4L360.2,220.2M311.0,219.3L312.0,220.0M352.2,233.1L351.2,233.5M332.4,200.1L333.6,200.7M354.9,228.9L353.7,230.4M307.2,191.8L307.3,192.8M302.2,205.2L301.7,206.4M357.7,184.7L356.9,185.8M285.6,190.2L285.7,190.8M353.4,195.9L354.0,196.2M337.2,206.9L336.5,208.3M352.1,235.3L351.6,236.1M323.3,192.8L324.5,192.8M343.6,192.4L344.3,193.3M342.9,210.8L342.3,212.4M317.4,226.5L316.7,226.7M361.8,222.5L362.9,223.0M336.3,232.4L336.8,233.7M358.5,226.7L357.2,226.9M339.3,193.6L338.2,194.9M337.2,221.9L338.6,223.0M328.6,225.7L329.6,227.3M355.3,202.0L356.5,202.3M330.2,224.9L330.2,225.6M352.3,186.3L351.6,186.8M311.8,226.2L312.5,226.5M328.1,222.4L326.7,223.2M363.2,187.3L364.2,188.2M308.7,222.5L308.1,223.7M354.5,213.3L355.2,214.3M354.3,232.0L355.7,233.1M332.2,193.4L332.1,194.7M335.5,184.5L334.2,184.6M317.8,226.4L317.5,227.7M342.1,186.0L342.0,187.2M364.0,233.3L364.8,234.3M295.4,206.3L293.9,207.4M323.4,200.0L324.6,200.9M362.0,189.9L361.5,190.3M300.6,195.1L300.0,195.9M313.1,216.8L314.6,217.3M294.0,210.8L294.6,211.4M328.3,206.5L328.8,207.6M327.9,191.3L329.1,192.2M338.3,211.8L337.0,212.5M356.6,195.2L355.4,196.4M359.3,199.6L360.3,201.2M358.0,189.8L359.1,190.9M306.3,188.0L305.3,188.6M350.1,189.2L350.6,190.7M286.0,193.3L285.0,194.8M365.4,188.5L365.3,190.2M325.9,220.5L326.5,220.9M293.0,184.4L292.8,185.7M331.4,190.8L332.1,191.3M360.9,188.1L362.8,188.4M322.5,224.5L323.1,225.6M327.4,206.4L327.2,206.9M342.4,229.1L343.4,229.8M345.8,205.1L346.4,205.5M359.6,226.4L358.5,227.8M337.1,204.6L336.7,205.9M347.0,225.5L346.0,226.1M359.8,230.7L358.8,232.1M348.5,205.0L348.1,205.6M312.2,208.8L313.3,208.8M336.9,216.7L338.4,218.0" stroke="#3B5BA5" stroke-width="1.0" stroke-linecap="round" fill="none" opacity="0.7"/><path id="c2" d="M363.5,190.6L365.5,190.8M299.7,189.2L299.2,190.1M359.2,195.7L358.2,195.8M341.8,233.5L341.4,234.1M357.8,215.1L358.3,215.8M356.2,214.9L354.6,215.2M342.0,216.0L343.3,217.4M311.0,225.9L309.5,226.1M339.4,193.1L340.7,193.3M326.3,210.7L326.7,212.2M360.7,199.2L361.3,200.6M309.1,215.2L308.9,216.4M339.6,211.8L341.5,212.3M313.6,205.8L314.2,207.7M318.1,188.2L317.3,188.4M329.6,201.7L330.2,202.7M300.2,184.2L300.0,185.9M338.5,193.8L338.2,194.4M319.1,228.4L317.9,228.7M355.2,209.7L355.1,211.1M324.0,222.5L323.5,223.5M350.2,227.2L349.6,229.0M336.6,201.3L338.0,202.1M319.5,197.7L321.5,197.9M313.2,189.2L314.0,189.8M356.5,192.7L357.0,193.2M323.1,193.7L323.9,195.1M361.1,228.8L362.3,228.9M354.8,184.4L355.8,185.2M316.5,223.8L315.7,224.7M304.7,195.4L305.1,195.9M340.6,191.4L339.2,191.9M288.9,210.1L288.7,210.7M355.1,195.4L355.1,196.2M352.4,182.8L353.0,184.2M358.6,212.5L359.4,214.1M326.8,193.0L327.3,193.7M355.0,210.3L353.9,211.8M348.2,203.9L347.8,204.7M297.4,185.4L297.8,186.2M297.5,213.4L296.2,214.0M327.3,225.2L329.2,225.3M342.0,227.2L341.3,227.6M289.6,191.9L289.6,193.8M360.7,204.9L360.1,206.4M363.9,222.7L362.3,223.2M338.5,200.3L339.1,201.0M310.5,188.1L310.6,189.2M298.6,208.7L298.9,209.7M352.4,199.0L352.2,200.8M326.8,194.8L327.6,195.2M309.1,190.5L311.1,190.8M352.8,188.4L353.0,190.1M326.1,186.3L326.7,187.3M360.7,214.3L360.9,215.8M351.7,219.4L352.1,220.3M297.3,207.6L296.6,208.2M323.8,217.7L323.6,218.3M361.1,214.8L361.6,215.6M341.6,233.8L342.2,234.8M330.5,191.7L331.1,193.5M330.1,227.6L331.4,228.9M349.8,194.6L349.7,196.2M331.6,215.6L332.6,216.6M313.4,226.0L314.2,227.8M332.7,195.2L332.9,195.9M346.0,185.0L345.7,186.0M349.7,189.3L348.8,190.6M303.3,189.5L303.9,190.9M320.2,227.0L321.9,227.9M326.2,191.7L327.2,192.0M323.4,192.5L324.6,192.8M305.2,206.7L305.5,208.2M331.8,195.1L333.3,196.0M287.4,189.6L289.1,190.0M336.4,200.7L336.8,202.2M312.0,213.4L313.7,214.2M362.5,210.9L361.0,211.4M330.1,191.6L328.3,191.8M321.3,204.0L322.7,204.3M355.4,203.8L356.3,205.0M350.2,191.8L351.1,192.9M321.8,192.1L322.6,192.1M306.5,224.2L305.3,225.1M310.2,219.1L309.4,219.9M290.5,208.5L291.2,209.1M317.3,187.0L316.3,187.3M358.5,223.5L360.4,223.6M352.6,211.7L351.4,212.1M285.6,190.5L286.6,192.0M353.5,189.2L353.8,189.8M303.1,202.0L303.3,202.8M339.8,196.1L338.6,196.5M319.9,224.7L320.3,225.5M293.7,198.7L294.9,199.8M313.6,221.6L314.0,222.1M310.0,204.5L309.2,204.7M301.1,190.9L302.5,192.3M361.6,195.4L362.9,195.6M332.9,188.3L333.3,190.0M341.5,225.6L341.6,226.9M327.6,190.0L327.5,191.0M310.7,185.3L311.3,185.6M329.6,195.4L329.3,196.6M303.8,189.3L303.3,190.7M342.1,210.6L341.9,211.2M315.5,187.9L315.9,189.6M292.2,188.2L292.2,190.1M317.1,196.4L316.5,196.9M309.6,215.5L308.0,216.3M311.2,197.3L311.5,198.0M307.4,225.1L306.4,225.2M364.9,225.9L365.4,227.5M347.9,222.9L347.9,224.9M349.5,195.6L349.7,196.3M325.1,211.6L324.6,212.1M313.7,208.8L313.7,210.4M362.8,226.3L362.6,227.9M333.9,215.1L334.3,216.2M349.0,203.3L347.4,203.8M331.1,203.1L332.6,203.2M347.3,222.6L346.9,223.0M341.2,197.5L341.8,199.2M317.6,208.6L318.4,208.7M301.7,194.5L301.6,195.2M292.1,187.0L290.8,188.5M346.2,211.0L347.8,211.7M294.9,186.3L294.8,188.1M346.9,230.5L345.2,230.6M300.6,210.6L300.4,212.2M303.0,214.4L303.6,215.1M321.9,226.7L321.7,227.7M302.8,202.3L303.1,203.2M309.7,194.9L310.6,196.1M337.3,217.3L335.8,217.6M295.0,204.4L294.9,206.0M328.5,187.4L328.6,188.9M349.7,207.3L350.2,207.7M325.6,224.0L326.9,224.5M333.9,213.6L334.4,214.0M286.4,199.6L285.2,200.0M333.2,206.3L332.9,208.1M312.8,191.4L311.4,191.8M315.1,204.8L316.4,205.2M350.5,209.8L349.6,211.1M312.6,218.0L311.0,218.2M299.7,218.7L299.0,220.2M343.4,233.2L342.5,233.2M324.7,185.5L323.9,185.5M319.7,216.5L319.9,217.3M326.2,194.5L326.2,196.1M309.4,206.9L308.9,208.2M351.7,232.0L350.9,232.1M324.9,189.0L324.2,190.0M355.6,209.4L355.1,209.8M335.8,205.6L335.2,205.9M311.1,206.0L311.7,207.9M337.2,228.4L335.6,229.2M321.6,198.0L321.5,199.9M359.0,209.1L357.4,209.5M350.4,184.7L351.0,186.1M326.1,212.0L327.1,212.3M356.9,201.5L357.0,202.9M307.8,204.9L307.7,206.7M354.8,191.9L354.8,193.6M359.6,211.5L359.0,212.9M341.1,232.1L339.1,232.2M315.7,198.1L317.5,198.7M359.1,211.6L359.1,212.5M361.3,224.3L362.5,225.0M315.2,202.6L315.5,203.3M337.1,195.9L336.4,197.0M355.2,223.9L354.4,224.2M350.6,225.4L350.9,225.8M303.7,205.0L305.2,205.3M355.3,228.8L356.9,229.8M350.8,191.2L349.1,192.0M358.4,223.9L357.3,224.7M325.1,190.8L326.8,191.5M359.2,185.8L360.7,185.9M322.0,222.0L323.7,222.3M300.7,206.1L300.8,207.1M304.0,207.6L304.8,207.7M360.5,191.7L358.7,192.5M321.5,209.0L320.9,210.1M305.6,222.9L306.5,223.7M286.2,200.6L285.6,201.0M299.8,204.5L300.1,205.0M289.2,193.5L287.9,194.6M352.2,221.2L351.2,221.2M344.1,207.6L342.8,207.8M345.6,225.6L344.0,225.8M312.3,218.1L310.7,219.3M305.0,222.9L304.5,223.5M294.2,213.4L293.8,214.4M336.1,190.5L335.8,191.8M353.2,222.4L354.5,222.8M295.1,211.3L294.2,212.6M298.7,210.2L298.7,211.5M348.1,198.9L348.2,199.9M299.9,217.3L301.4,218.2M315.7,189.0L315.2,189.4M308.0,219.0L309.6,219.1M290.7,201.6L290.2,201.9M337.6,211.2L336.8,212.0M362.5,188.8L362.7,189.8M330.8,194.4L331.2,195.5M308.4,190.5L307.3,191.8M358.3,207.6L357.8,209.3M362.1,195.1L361.7,195.7M336.6,211.7L336.9,213.0M362.3,189.4L363.8,189.6M352.4,206.4L353.8,206.8M339.7,195.4L338.6,196.2M349.7,195.2L350.4,196.6M340.9,229.5L339.4,229.8M339.8,225.6L340.1,226.2M332.8,193.2L332.7,194.1M358.0,183.8L357.6,185.6M338.1,190.1L337.8,191.9M337.5,232.5L336.6,233.2M324.2,227.2L324.5,228.8M357.3,227.1L356.1,228.1M298.0,200.7L298.7,201.5M333.5,202.1L332.7,203.8M335.0,214.1L335.4,215.7M358.1,196.1L357.8,196.9M321.8,202.0L320.2,203.0M357.6,211.1L356.6,212.3M328.8,189.8L330.1,191.2M333.8,189.0L334.2,189.7M294.3,203.7L294.7,204.2M322.7,204.5L323.0,205.4M311.3,192.8L311.7,194.6M325.9,217.4L326.0,218.6M357.9,215.2L358.8,215.8M316.8,213.7L317.2,214.6M346.5,230.4L345.7,230.6M329.0,222.1L329.1,223.5M336.9,217.6L337.4,218.0" stroke="#3B5BA5" stroke-width="1.0" stroke-linecap="round" fill="none" opacity="0.75"/><path id="c3" d="M332.3,217.5L331.5,218.0M339.2,231.9L338.3,232.1M338.8,216.0L338.7,217.9M329.1,207.4L327.6,207.6M309.3,199.7L309.3,200.3M334.8,222.6L335.2,224.3M362.2,213.2L361.7,213.9M308.7,194.5L307.1,195.0M294.0,200.4L294.7,201.0M309.2,204.5L309.9,204.9M346.4,213.6L347.2,213.9M293.6,200.3L294.5,200.5M301.3,193.1L300.8,194.2M323.9,201.9L323.7,203.5M309.8,186.3L309.9,187.4M349.8,189.0L349.3,189.2M329.0,206.6L330.1,208.2M343.0,191.2L343.0,192.7M287.1,187.0L286.6,188.6M322.9,205.7L322.9,206.7M357.6,235.6L357.6,236.2M317.2,226.8L317.6,227.5M299.7,221.7L299.4,222.6M337.3,224.7L335.5,224.9M321.3,227.3L319.6,227.7M347.1,214.4L347.0,216.2M336.2,222.4L336.8,222.9M306.8,214.7L306.6,215.5M349.6,214.5L348.1,214.6M352.0,190.6L352.7,190.6M349.3,226.3L349.9,226.8M315.4,226.3L314.2,227.6M353.3,183.9L355.1,183.9M335.5,200.8L336.5,201.2M312.4,209.8L312.6,210.7M290.6,194.0L291.2,194.3M319.4,189.8L318.3,190.6M322.4,217.9L322.9,218.4M290.4,201.1L290.8,202.0M316.5,198.2L315.9,198.9M288.1,191.7L287.0,191.8M288.0,195.7L286.9,196.5M350.6,204.1L350.0,204.4M335.6,192.8L337.1,193.9M319.6,227.1L320.6,228.3M359.7,217.0L360.8,218.0M363.8,226.5L364.0,227.6M296.9,195.0L297.7,195.1M315.7,208.9L316.7,209.5M347.1,188.1L348.3,188.6M360.0,233.1L359.9,233.8M358.0,237.4L356.8,237.8M316.9,214.7L315.4,215.9M325.1,210.3L325.8,211.4M329.5,197.6L329.8,199.5M303.3,196.2L304.3,197.7M362.4,230.9L361.7,231.4M321.3,227.8L322.3,228.8M357.0,234.0L357.3,234.7M286.7,199.9L286.5,200.9M353.5,217.9L352.9,219.6M311.4,218.3L311.8,219.2M359.8,184.4L359.4,185.0M319.7,200.2L318.5,200.6M326.6,202.2L327.2,202.9M330.5,223.2L330.0,224.0M319.4,200.8L321.1,201.9M343.3,189.8L344.8,190.7M315.0,199.2L315.6,200.0M333.6,199.8L333.4,200.5M328.5,214.3L329.4,215.9M361.9,218.7L362.1,219.5M336.0,198.6L337.1,199.2M301.0,217.9L300.6,218.4M336.7,192.8L337.5,194.2M347.8,202.0L347.0,202.2M340.0,186.8L339.7,188.4M360.8,224.5L360.6,225.7M337.2,217.9L336.6,219.4M346.9,233.7L346.3,235.4M346.6,203.6L345.7,204.2M354.5,231.1L352.7,231.6M341.7,209.8L342.6,211.0M358.3,202.2L359.6,203.2M360.1,194.2L360.7,194.5M329.7,228.2L331.0,229.4M288.0,193.7L287.8,195.3M325.2,220.3L325.7,221.3M301.0,201.9L300.6,202.7M339.3,205.1L338.0,206.1M352.7,213.4L352.5,214.1M319.6,204.2L320.4,205.0M357.9,195.1L358.9,195.4M298.9,184.1L297.6,184.5M299.6,209.4L297.7,209.8M317.4,225.7L317.4,226.4M318.3,227.0L317.0,228.1M343.9,227.8L342.1,228.2M357.0,201.0L357.6,202.4M293.9,199.5L294.2,200.3M299.4,218.6L299.8,219.2M350.4,234.5L351.6,235.5M290.3,194.8L291.6,195.5M331.3,227.5L330.5,228.9M357.2,214.8L357.8,215.4M356.4,227.3L355.5,229.0M351.5,204.8L352.5,205.5M360.8,231.9L361.4,231.9M357.4,228.9L358.2,229.1M348.5,206.4L349.5,208.0M358.6,221.4L357.7,221.7M295.5,206.6L294.7,206.7M348.3,223.5L349.7,224.9M350.5,190.2L348.7,190.3M350.1,214.9L349.6,215.4M324.6,227.1L324.0,227.8M311.6,207.0L311.8,209.0M336.5,190.3L335.3,190.8M359.8,232.9L359.0,233.1M323.0,225.2L323.2,226.3M345.7,202.7L345.7,203.8M340.6,186.2L340.8,187.6M341.2,231.7L341.9,233.5M343.1,203.6L342.9,204.6M339.4,184.2L338.3,184.5M313.0,197.2L312.0,197.7M360.5,197.4L361.4,199.1M355.8,234.4L356.5,234.6M342.0,201.4L342.7,201.7M311.6,199.2L310.6,200.9M334.9,230.6L333.0,230.7M348.2,203.8L349.8,204.0M337.3,224.2L336.1,225.4M349.9,234.1L350.1,235.1M334.3,225.2L334.8,226.7M360.7,189.9L360.2,191.6M317.7,198.2L318.4,199.0M316.3,205.3L317.3,206.3M302.6,196.5L302.8,198.4M307.7,192.5L306.6,193.5M300.2,217.2L301.5,218.4M315.7,217.1L314.4,218.1M310.3,198.9L309.9,200.2M343.7,186.7L344.3,186.8M352.1,192.2L351.2,193.0M355.6,188.3L354.5,188.7M303.0,218.9L304.2,219.0M323.5,207.5L322.7,208.0M361.0,191.8L360.1,191.9M341.5,233.4L340.5,234.9M353.7,224.6L352.8,225.7M359.9,227.0L361.0,227.7M321.4,190.8L319.8,191.6M347.7,184.2L346.4,185.6M345.1,234.1L343.5,234.3M346.7,199.3L346.0,200.0M306.1,200.9L306.5,201.4M296.4,198.0L296.8,198.4M345.4,227.7L346.2,229.1M357.1,184.0L356.8,185.3M351.7,211.6L351.5,213.4M327.6,199.2L328.5,200.2M363.6,226.5L364.5,226.8M337.0,202.5L336.0,203.2M334.3,207.9L332.8,208.1M317.8,191.8L317.9,192.8M363.8,194.8L363.7,195.4M309.5,218.1L309.5,219.6M331.5,216.1L332.9,217.5M339.0,184.3L338.3,184.7M319.3,218.6L318.5,218.8M309.2,210.8L308.5,211.9M290.2,204.7L288.9,205.7M305.6,219.2L304.2,220.1M329.3,189.7L328.7,190.5M312.7,202.9L312.5,204.2M326.3,217.4L327.7,218.3M340.5,227.0L340.2,228.3M353.7,218.6L354.9,219.9M300.7,197.8L299.6,198.5M312.5,201.3L313.5,202.5M303.8,187.3L302.6,187.9M341.1,229.4L341.6,230.3M312.0,208.4L311.8,209.3M323.0,217.5L325.0,217.9M350.1,213.0L350.1,214.5M317.2,214.2L317.2,215.3M323.7,185.8L323.3,186.7M306.7,191.0L305.9,191.8M332.9,210.6L332.6,211.6M306.1,224.9L305.5,225.5M296.3,202.0L295.5,202.7M303.0,205.9L303.0,207.4M311.6,205.0L310.0,205.0M301.6,210.5L303.3,211.4M301.9,194.9L302.4,195.8M312.8,204.3L313.0,205.0M336.4,220.8L337.0,221.3M287.0,192.3L286.9,193.8M362.4,227.9L363.3,228.3M299.8,186.7L301.1,186.9M285.6,195.9L286.4,197.5M293.3,206.9L291.8,207.5M299.3,211.2L298.9,211.8M356.2,219.8L356.7,220.8M300.5,214.7L299.7,215.9M351.1,197.7L350.7,198.5M343.4,223.7L343.6,225.3M302.3,193.8L301.3,195.3M301.0,206.4L300.1,206.8M355.5,184.7L356.6,186.1M339.0,189.1L339.1,190.4M342.2,218.7L342.6,219.6M292.4,208.3L291.7,210.2M343.5,234.7L342.8,235.7M346.5,183.7L347.1,183.9M322.4,226.4L321.2,227.3M314.9,198.6L315.1,199.6M326.3,218.3L328.1,218.8M316.1,225.2L317.5,225.6M356.5,209.5L357.3,209.6M358.1,193.2L357.2,194.4M349.2,217.6L348.9,219.3M343.9,195.4L345.3,195.7M331.7,218.8L332.9,220.3M333.8,205.9L334.5,206.3M306.7,219.8L307.2,221.5M350.8,198.4L350.9,199.6M345.4,197.2L345.6,198.3M337.6,209.8L337.3,210.8M295.6,203.9L294.2,204.9M348.9,217.6L347.9,217.8M297.1,205.0L298.9,205.1M321.4,218.7L321.3,220.1M316.6,225.8L314.7,226.5M331.8,207.7L331.3,209.6M325.9,230.0L326.8,230.5M336.3,217.0L337.1,218.4M353.7,221.5L352.9,221.9M318.3,205.1L319.1,206.1M361.6,223.5L362.9,224.3M338.5,196.4L338.9,197.1M321.7,223.1L322.2,224.0M304.5,206.9L305.5,207.7M349.8,229.9L349.4,231.7M308.1,220.5L308.4,221.3M317.5,194.0L317.1,194.7M343.0,223.3L344.2,223.4M338.9,218.2L338.6,218.8M345.8,190.5L347.5,190.6M319.9,193.4L320.9,193.9M339.5,184.2L339.4,185.5M356.6,206.0L357.9,206.7M292.3,188.0L290.9,188.5M313.0,194.4L314.1,195.0M323.6,203.8L323.6,204.9M325.7,204.2L326.6,204.8M349.4,186.8L348.8,188.6M334.1,207.8L332.6,208.4M360.7,207.4L361.0,207.9M302.5,223.0L302.2,223.8M347.0,226.0L348.4,226.4M311.7,203.4L312.5,204.4M315.3,189.0L315.5,189.6M324.7,191.7L325.3,192.2M329.6,217.4L328.5,218.1M328.0,228.6L328.4,229.2M360.9,225.9L361.3,226.5M315.5,208.8L316.7,210.1M331.3,226.6L331.2,228.5M337.4,209.6L337.5,211.4M335.5,213.0L337.1,214.0M317.6,194.1L318.7,194.3M326.3,196.3L325.7,197.0M360.8,191.2L361.5,191.6M350.5,231.1L350.0,231.8M353.7,220.7L355.0,222.0M348.0,197.6L348.0,198.2M293.7,187.1L292.7,187.7M307.4,190.0L308.7,191.4M310.6,185.3L311.7,185.5M359.1,195.0L358.2,195.8M304.1,200.4L303.9,201.5M287.8,202.1L286.5,203.4M357.1,203.0L357.9,204.7M305.6,215.8L304.5,216.3M298.5,192.1L297.3,192.1M296.6,195.6L296.0,196.1M293.4,187.8L291.7,188.5M356.6,203.7L357.6,204.6M287.6,194.3L285.7,194.9M315.7,194.5L315.0,196.3M332.0,211.5L331.2,212.9M308.7,200.6L308.8,201.8M359.9,197.2L360.5,197.8M324.1,213.2L325.2,214.0M328.5,191.1L328.2,191.8M322.0,193.3L323.2,193.9M351.5,211.6L352.3,212.0M356.5,213.5L357.2,214.4M295.3,214.8L297.0,214.9M300.9,202.3L300.2,202.4M313.1,216.7L312.4,218.3M352.8,207.8L352.1,208.4M349.3,228.7L351.0,228.8M313.2,189.3L314.0,189.8M352.4,229.8L352.0,230.8M306.5,194.4L307.7,194.7M339.1,226.8L337.8,228.1M332.2,223.2L331.6,224.6M348.5,188.3L349.4,188.4M316.9,207.3L318.4,207.6M337.1,201.8L336.2,202.2M304.6,193.9L305.7,194.1M333.6,202.4L333.3,203.8M347.6,186.9L346.0,187.4M349.0,230.0L348.2,230.4M317.8,218.3L317.7,220.0M320.3,220.9L320.7,221.9M337.2,207.0L337.7,208.2M316.0,200.4L316.5,201.7M296.0,203.0L295.4,204.0M350.4,198.2L350.5,199.4M312.7,210.2L310.9,210.8M336.5,210.2L337.3,210.8M321.9,190.2L320.2,190.9M332.9,196.8L332.0,197.9M344.5,231.1L345.3,231.8M328.8,216.2L328.8,216.9M358.8,212.1L359.4,212.5M321.7,227.4L320.2,228.3M307.3,193.4L307.0,194.6M289.0,193.2L290.1,194.0M343.8,194.5L345.1,195.5M360.7,209.4L359.3,209.8M324.0,197.4L324.8,198.2M361.7,218.9L360.4,220.2M354.9,200.4L355.4,200.8M340.6,191.2L339.3,192.3M310.9,211.3L310.3,211.6M303.8,196.6L302.2,197.5M322.3,189.0L321.4,189.5M348.4,217.2L348.0,218.4M329.6,206.7L328.4,208.1M286.8,195.0L285.9,196.5M331.4,205.8L332.5,206.8M288.9,196.2L287.8,196.9M333.7,192.4L335.4,192.8M294.6,210.7L294.3,211.8M312.3,214.1L312.1,214.8M312.7,221.0L312.4,221.9M327.9,206.6L328.7,206.8M349.8,218.7L350.5,219.6M302.0,185.6L302.7,186.4M318.1,187.9L317.2,188.7M321.0,211.2L321.8,212.8M308.9,188.7L308.7,190.3M303.5,211.6L303.0,212.2M355.0,200.9L355.0,201.9M349.8,216.0L350.1,217.1M348.9,200.2L349.3,200.6M358.0,230.1L356.4,231.3M336.3,196.9L336.7,197.8M310.7,197.1L311.6,198.8M289.2,207.7L287.9,208.8M310.8,217.4L310.3,219.1M360.5,224.2L361.4,224.7M307.9,187.8L308.5,188.5M358.3,235.3L356.8,236.0M313.6,199.7L314.0,201.4M309.5,210.8L308.9,211.3M338.4,183.9L339.4,185.0M339.4,231.3L338.7,231.8M345.9,205.1L346.7,205.8M345.5,232.0L345.6,233.8M313.9,197.9L315.5,198.7M352.2,194.8L353.9,195.6M352.6,211.0L354.3,211.1M304.3,210.5L305.8,211.5M340.8,195.3L340.1,196.0M329.0,218.3L329.3,219.0M316.1,186.2L315.2,186.8M320.6,219.2L320.7,219.9M332.7,203.9L333.9,204.9M352.0,216.0L352.8,216.6M356.0,204.6L355.7,205.1M333.9,230.7L332.3,231.5M315.6,200.9L315.7,202.1M337.5,204.7L335.6,205.2M321.9,220.1L320.1,220.7M321.7,200.6L322.4,200.6M325.4,189.3L325.6,191.1M310.8,210.9L309.6,211.1M351.5,235.2L352.1,235.9M347.6,209.6L348.3,210.3M339.2,202.1L338.7,203.0M306.9,200.1L306.2,200.5M297.9,187.3L297.0,188.8M341.0,207.8L341.2,209.6M333.4,222.6L334.5,223.3M351.3,199.0L351.8,199.7M298.3,201.2L298.8,201.6M320.6,204.8L320.2,205.7M362.7,191.1L362.8,191.9M322.4,202.1L322.6,203.0M315.3,219.1L315.9,219.9M293.0,204.7L294.2,205.7M325.5,194.6L324.7,196.3M327.0,207.6L326.5,208.9M334.5,205.4L333.8,206.9M322.1,197.7L323.3,197.8M337.5,184.3L336.1,184.6M307.8,210.1L307.0,211.1M316.6,214.9L317.6,215.3M352.7,233.5L351.9,233.9M310.0,219.7L309.1,219.9M297.4,199.2L297.8,199.9M292.9,196.5L291.3,197.0M352.0,213.8L351.8,215.0M310.7,193.4L312.1,193.5" stroke="#3B5BA5" stroke-width="1.05" stroke-linecap="round" fill="none" opacity="0.8"/><path id="edge" d="M384.5,164.0 379.0,174.0 373.4,183.0 367.0,188.5 361.5,193.7 360.7,201.7 361.4,211.7 360.5,217.0 358.7,221.7 362.0,225.0 365.5,229.0" fill="none" stroke="#3B5BA5" stroke-linejoin="round" stroke-linecap="round"/><path id="blobB" d="M350,227 C351,223 357,223 359.5,225.5 C361,228 359,232.5 355,232 C351.5,231.5 349.5,230 350,227Z M361.5,224 C363,222 367.5,222.5 368.5,226 C369,229.5 366,231.5 363.5,230.5 C361.5,229.5 361,226 361.5,224Z" fill="#3B5BA5"/><g id="blobA" fill="none" stroke="#3B5BA5" stroke-linecap="round" stroke-linejoin="round"><path d="M295.3,214.5 L300,213 L305.3,212.6" stroke-width="2.2"/><path d="M317.4,192.5 L321,191 L325.4,190.3" stroke-width="2.4"/><path d="M290,200 L296,203 L300,207" stroke-width="1.6"/><path d="M336,206 L342,203 L348,204" stroke-width="1.6"/><path d="M340,214 L346,212 L352,214" stroke-width="1.4"/><path d="M305,196 L310,198 L314,202" stroke-width="1.5"/></g><g id="southSC" fill="none" stroke="#3B5BA5" stroke-linecap="round" stroke-width="1.3" opacity="0.8"><path d="M292,246 L293,252 L291.5,258 L293,264"/><path d="M296,248 L297.5,255 L296.5,262"/><path d="M299,250 L300.5,258"/><path d="M240,262 L246,266 L252,270"/></g><path id="westdots" d="M83.0,224.8L82.1,225.3M54.7,221.6L53.0,221.7M79.5,208.1L78.8,209.1M39.9,205.3L40.1,207.3M57.2,190.7L57.8,191.3M112.7,257.6L112.9,258.4M117.6,247.9L117.1,249.0M130.9,234.9L130.5,236.4M63.3,214.1L61.9,215.2M75.8,258.1L75.1,258.6M53.0,186.7L54.9,186.8M110.4,225.2L109.1,225.2M85.6,165.3L85.2,166.2M57.2,236.7L55.7,237.5M69.2,237.1L69.7,237.7M67.4,242.1L67.0,243.1M131.1,258.9L132.5,260.5M104.3,225.0L104.4,226.2M70.3,207.3L70.0,209.4M142.9,238.7L144.2,239.0M124.0,192.5L123.8,194.4M63.8,243.7L63.6,244.6M66.0,209.0L67.9,209.9M64.7,187.1L64.3,188.5M72.4,198.0L72.4,200.1M143.5,241.6L142.4,242.4M146.1,248.5L145.3,249.7M71.1,224.0L71.9,224.6M49.8,206.1L49.7,207.8M71.9,175.2L70.3,175.6M113.0,242.0L113.8,243.4M72.7,238.1L72.0,238.6M100.6,262.8L99.6,263.0M136.8,258.7L137.6,259.6M52.7,190.7L53.3,192.5M57.1,213.8L55.7,214.3M126.6,242.4L125.3,242.9M79.6,214.6L78.6,215.3M90.4,236.8L91.1,237.2M61.1,211.5L62.2,211.6M70.8,180.0L70.0,181.5M73.6,245.0L72.4,245.5M103.9,194.2L103.0,195.9M75.3,240.0L74.3,240.2M127.4,217.2L126.5,217.3M79.0,178.7L80.4,180.2M96.9,202.9L96.1,203.0M99.6,258.9L99.6,261.0M74.6,187.2L73.1,187.7M127.1,252.4L126.5,253.9M85.1,242.1L85.8,244.1M104.4,240.5L102.3,241.0M96.8,172.5L96.7,174.6M59.3,190.2L60.0,191.1M127.9,224.1L129.3,224.5M114.8,208.0L115.9,208.0M57.8,227.6L58.1,228.9M73.1,164.0L74.0,165.4M96.9,230.3L97.7,230.8M123.4,244.7L122.4,246.6M70.4,247.2L71.4,248.5M139.8,213.6L139.0,215.7M92.7,188.6L91.0,188.8M72.7,192.9L73.6,193.0M132.5,244.5L131.2,245.0M139.7,227.8L141.6,228.7M98.7,207.3L98.6,208.7M82.1,235.2L81.3,237.1M91.7,236.6L92.2,238.5M80.1,236.6L80.8,237.3M110.4,215.2L108.3,215.2M56.1,211.2L56.4,212.6M45.5,195.0L46.1,196.8M48.8,235.2L49.5,236.9M114.0,182.5L113.2,183.5M71.3,221.6L72.1,222.6M102.3,188.4L101.2,188.9M55.0,214.0L57.0,214.8M71.9,221.7L70.9,221.8M75.9,166.6L74.4,167.0M79.4,258.7L77.3,259.1M60.4,204.2L58.6,205.1M41.1,207.8L39.6,208.7M83.2,240.9L83.5,242.9M68.1,249.9L69.5,250.6M71.4,200.2L72.0,200.8M111.7,238.2L112.1,239.8M81.4,249.2L79.8,250.3M113.0,187.1L111.7,187.9M120.2,249.1L120.9,249.7M124.6,240.0L125.4,240.0M83.4,238.0L85.0,238.6M74.9,237.4L75.6,238.2M53.0,241.9L52.7,242.8M130.0,209.9L130.9,210.0M67.5,189.7L69.3,189.9M116.0,249.6L115.2,250.3M56.1,233.9L54.6,235.0M121.1,208.9L119.8,210.5M120.1,211.5L119.7,212.9M138.1,233.2L139.0,235.1M129.4,209.1L128.5,209.2M135.8,213.2L135.9,215.2M83.5,211.6L84.8,212.8M116.9,240.1L118.6,241.1M91.6,173.4L92.4,173.9M52.9,221.2L51.7,222.4M107.7,262.6L106.3,263.0M132.6,227.0L131.2,228.3M139.0,220.9L139.9,221.1M117.1,232.6L116.2,233.1M91.0,170.5L90.5,171.3M126.2,256.4L127.0,258.3M78.4,258.1L79.5,259.6M48.3,199.7L48.9,201.6M89.2,261.3L87.8,261.4M57.7,231.1L58.2,231.9M37.7,209.6L39.4,209.8M121.0,246.8L121.0,248.5M135.0,197.3L134.6,198.3M72.8,242.0L74.8,243.0M83.1,251.1L83.0,252.0M62.4,192.3L64.0,193.3M66.9,239.3L66.6,241.3M108.4,227.7L109.8,227.9M100.1,256.2L99.5,257.7M75.0,238.1L76.1,239.9M70.0,245.6L69.8,247.1M97.7,176.3L96.4,177.4M91.1,221.7L91.5,222.7" stroke="#3B5BA5" stroke-width="1.0" stroke-linecap="round" fill="none" opacity="0.7"/><g id="southriv" fill="none" stroke="#3B5BA5" stroke-linejoin="round" stroke-linecap="round" stroke-width="1.3"><path d="M107.9,208.0 118.0,207.0 130.8,206.9 141.0,211.0 151.0,215.8 158.0,219.0 166.3,222.0 174.0,224.0 181.5,225.9 190.0,227.5 199.3,228.4 201.7,222.0 214.0,219.0 227.1,219.6 240.0,219.0 252.3,218.3 265.0,216.0 277.8,214.5 290.0,213.5 303.1,213.2 316.0,213.8 328.5,214.5 340.0,217.0 353.8,222.0"/><path d="M199.3,228.4 199.8,238.0 199.3,247.4 195.0,256.0 191.6,262.6 186.0,268.0 181.5,272.8 177.0,280.0 173.9,285.5"/><path d="M130.8,206.9 129.5,216.0 128.3,227.2 128.3,242.4 133.3,252.5 137.0,262.0 140.9,270.3"/></g><g id="y17"><path d="M213,224 L232,221 L258,221 L283,224 L300,229 L314,234 L319,248 L312,262 L290,270 L260,273 L236,277 L216,282 L206,270 L212,256 Z" fill="#FEF1A9" opacity="0.9"/><path d="M246,226 L249,236 L252,246 L252,254" stroke="#3B5BA5" stroke-width="0.8" fill="none" opacity="0.6"/><path d="M264,226 L265,238 L262,250" stroke="#E1B2A5" stroke-width="0.8" fill="none"/><path d="M290,238 L288,250 L284,260" stroke="#3B5BA5" stroke-width="0.8" fill="none" opacity="0.6"/></g><path id="lobeB" d="M268,142 C276,134 292,130 302,136 C310,144 316,154 318,164 C312,172 298,176 284,172 C274,166 268,154 268,142Z M232,160 C240,154 250,150 258,152 C262,160 258,170 250,176 C242,180 232,178 228,172Z" fill="#CDEFFC" opacity="0.85"/><g id="lobeY"><path d="M212,168 L228,156 L246,144 L262,132 L276,122 L284,112 L292,124 L300,142 L304,164 L292,178 L270,184 L248,190 L226,190 L214,184Z" fill="#FEF1A9"/><path d="M232,170 L250,158 L268,146 M246,182 L266,168 L284,156 M258,150 L274,140 L288,130 M282,120 L290,134 L298,150" stroke="#E1B2A5" stroke-width="1" fill="none"/><path d="M240,176 L250,168 M262,160 L272,152 M286,146 L294,160" stroke="#CDEFFC" stroke-width="2" fill="none"/></g><path id="pk" d="M87.9,250.6 89.7,253.0 91.6,255.3 93.4,257.7 95.4,259.9 97.0,262.5M267.2,200.7 269.9,199.4 272.7,198.3 275.2,196.8 277.8,195.2 280.1,193.3M357.9,183.3 358.6,180.4 359.1,177.5 359.4,174.5 359.1,171.5 359.3,168.5 359.6,165.5 359.9,162.5 360.6,159.6 360.5,156.6 360.2,153.6M297.6,161.5 299.4,164.0 300.9,166.6 302.3,169.2 303.7,171.9 304.7,174.7 305.8,177.5 307.6,179.9 309.9,181.8 312.7,183.0 315.2,184.6M120.8,182.8 118.6,184.8 116.2,186.6 113.6,188.0 110.9,189.4 108.0,190.3 105.1,191.0 102.3,192.1 99.9,193.9 97.5,195.7 95.1,197.5 93.0,199.6 91.0,201.8M291.8,94.1 290.8,91.3 290.0,88.4 289.3,85.5 288.6,82.6 288.0,79.7M45.2,216.5 42.5,217.8 39.7,218.9M305.2,258.2 308.2,258.9 311.1,259.5 314.1,259.6 317.1,259.1 320.0,258.6 322.9,257.8 325.9,257.7 328.8,258.2 331.8,258.3 334.8,258.3 337.8,258.4M277.9,153.1 280.3,154.9 282.3,157.2 283.9,159.7 285.5,162.2 286.9,164.9 288.5,167.4 289.8,170.1 290.9,172.9 292.2,175.6 293.7,178.2 294.9,181.0 296.3,183.6M134.7,187.8 131.8,188.3 128.8,188.5 125.8,188.7 122.8,188.9 119.9,189.8 117.0,190.5M120.0,208.5 117.0,209.1 114.1,209.9 111.5,211.3 108.9,212.9 106.7,214.8 104.4,216.8 102.1,218.7M337.2,203.6 334.9,205.6 332.9,207.8 330.6,209.6 328.4,211.7 325.8,213.2 323.2,214.7 321.1,216.8 319.4,219.3 317.9,221.9 316.1,224.3 314.4,226.8M202.9,287.6 204.3,285.0 206.0,282.5 207.5,279.9 209.4,277.6 211.4,275.3 213.2,272.9 215.1,270.6 217.0,268.3 218.6,265.7 220.3,263.3M174.0,205.4 172.6,208.1 171.7,210.9 170.9,213.8 169.8,216.6 168.6,219.4 167.1,222.0 165.9,224.7 164.7,227.5 163.7,230.3 163.0,233.2 162.2,236.1 161.5,239.0M255.7,185.7 253.4,187.5 250.8,189.1 248.3,190.8 246.1,192.8 243.8,194.7M257.8,199.1 260.8,199.6 263.8,199.8 266.8,200.1 269.8,200.1 272.8,200.4 275.7,200.8M272.7,190.2 275.7,189.6 278.7,189.3 281.6,188.9 284.6,188.7 287.6,188.7 290.6,189.2 293.5,189.7 296.5,190.2M268.7,147.6 270.2,150.2 272.1,152.6 274.2,154.8 276.1,157.1 277.8,159.5 279.6,161.9 281.4,164.3 283.1,166.8 284.2,169.6 285.8,172.2M140.1,181.0 137.6,182.6 135.0,184.2 132.5,185.8 130.2,187.7 127.8,189.6 125.4,191.3 122.6,192.3 119.6,192.9 116.6,192.9 113.6,193.0M208.1,264.1 207.3,267.0 206.3,269.8 205.2,272.6 203.8,275.3 202.3,277.9 200.5,280.3M287.7,105.5 288.6,108.4 289.4,111.3 290.5,114.1 291.9,116.7 293.2,119.4 294.5,122.2 295.7,124.9 297.0,127.6M320.7,256.0 317.7,255.5 314.8,254.8 311.9,254.0 309.1,252.8 306.8,251.0 304.4,249.2M340.4,252.9 337.8,254.3 335.2,255.7 332.8,257.6 330.6,259.6 328.3,261.6 326.4,263.9 324.7,266.4 322.9,268.8 320.8,270.9M165.9,247.9 163.1,248.9 160.2,249.7 157.2,249.7 154.2,249.6 151.2,249.6 148.2,249.8 145.2,249.8M85.8,233.8 82.8,233.9 79.8,234.1 76.8,234.1 73.8,233.9 70.9,233.5 68.0,232.8M260.8,190.7 263.0,188.7 265.1,186.5 267.6,184.9 270.4,183.8 272.9,182.1 275.1,180.1 277.8,178.8 280.8,178.2 283.7,177.6 286.5,176.4" stroke="#E1B2A5" stroke-width="0.9" stroke-linejoin="round" fill="none"/><path id="lobeRiv" d="M279,86 L284,100 L289,116 L293,134 L297,152 L301,170 L303,180 M302,93 L307,108 L313,124 L322,138 L334,150 L348,158 L362,164" stroke="#3B5BA5" stroke-width="1.0" stroke-dasharray="2.5 1" fill="none"/><path id="mainriv" d="M37.2,209.2 46.0,210.0 52.4,207.6 57.2,206.0 62.0,202.8 67.6,198.8 74.0,195.6 82.0,192.4 88.4,188.4 94.8,185.2 102.9,185.6 109.3,186.0 114.1,185.2 118.1,182.0 122.1,181.2 130.1,179.6 138.1,178.0 146.1,177.2 154.0,177.2 158.0,177.2 164.4,180.4 171.6,183.6 179.6,185.2 184.4,190.0 190.0,194.0 194.0,198.0 202.0,200.4 212.4,201.6 220.5,202.0 226.9,204.0 236.5,205.2 242.9,206.8 250.9,204.4 260.5,202.8 270.0,202.0 279.0,199.0 288.0,195.0 296.0,190.0 305.0,188.0 312.0,187.5 318.0,190.0 326.0,192.0 336.0,191.0 346.0,189.5 356.0,189.0 362.0,190.0" fill="none" stroke="#3B5BA5" stroke-linejoin="round" stroke-linecap="round" stroke-width="1.6"/></defs>
<rect x="0" y="0" width="1499" height="1062" fill="#fff"/>
<text x="305" y="43" class="ttl">2013~2023</text><text x="458.9" y="43" class="ttl" transform="translate(0,45.5) scale(1,0.94) translate(0,-45.5)">年青海泽库泽曲国家湿地公园土地类型空间分布图</text>
<rect x="14.3" y="61.3" width="1474.4" height="975.5" fill="none" stroke="#000" stroke-width="1.5"/>
<g transform="translate(-0.07,-0.15) scale(1.002)"><use href="#base"/><g clip-path="url(#clipm)"><use href="#c3"/><use href="#mainriv" opacity="0.8"/><use href="#blobA" opacity="1.0"/><use href="#blobB" opacity="1.0"/><use href="#edge" stroke-width="2.4" opacity="1"/></g></g><g transform="translate(485.6,-0.23) scale(1.003)"><use href="#base"/><g clip-path="url(#clipm)"><use href="#c1"/><use href="#mainriv" opacity="0.6"/><use href="#southriv" opacity="1.0"/><use href="#edge" stroke-width="1.3" opacity="0.75"/></g></g><g transform="translate(971.0,-0.23) scale(1.003)"><use href="#base"/><g clip-path="url(#clipm)"><use href="#c2"/><use href="#blobA" opacity="0.3"/><use href="#blobB" opacity="0.6"/><use href="#edge" stroke-width="1.0" opacity="0.75"/></g></g><g transform="translate(-0.66,238.64) scale(1.018)"><use href="#base"/><g clip-path="url(#clipm)"><use href="#c3"/><use href="#pk"/><use href="#lobeY"/><use href="#mainriv" opacity="0.9"/><use href="#blobA" opacity="0.9"/><use href="#blobB" opacity="1.0"/><use href="#edge" stroke-width="1.6" opacity="0.95"/></g></g><g transform="translate(485.2,238.97) scale(1.011)"><use href="#base"/><g clip-path="url(#clipm)"><use href="#c3"/><use href="#y17"/><use href="#lobeRiv" opacity="0.5"/><use href="#mainriv" opacity="0.8"/><use href="#blobA" opacity="1.0"/><use href="#blobB" opacity="1.0"/><use href="#edge" stroke-width="1.4" opacity="0.75"/></g></g><g transform="translate(970.3,238.51) scale(1.017)"><use href="#base"/><g clip-path="url(#clipm)"><use href="#c2"/><use href="#pk"/><use href="#southSC"/><use href="#edge" stroke-width="1.0" opacity="0.75"/></g></g><g transform="translate(-0.67,480.77) scale(1.032)"><use href="#base"/><g clip-path="url(#clipm)"><use href="#c1"/><use href="#lobeB"/><use href="#lobeRiv" opacity="0.6"/><use href="#westdots"/><use href="#edge" stroke-width="1.0" opacity="0.75"/></g></g><g transform="translate(485.0,480.78) scale(1.024)"><use href="#base"/><g clip-path="url(#clipm)"><use href="#c1"/><use href="#lobeB"/><use href="#lobeRiv" opacity="0.8"/><use href="#mainriv" opacity="0.5"/><use href="#southriv" opacity="0.6"/><use href="#westdots"/><use href="#blobB" opacity="0.6"/><use href="#edge" stroke-width="1.2" opacity="0.75"/></g></g><g transform="translate(970.4,480.85) scale(1.031)"><use href="#base"/><g clip-path="url(#clipm)"><use href="#c2"/><use href="#pk"/><use href="#southSC"/><use href="#edge" stroke-width="1.0" opacity="0.75"/></g></g><g transform="translate(-0.07,728.65) scale(1.002)"><use href="#base"/><g clip-path="url(#clipm)"><use href="#c3"/><use href="#pk"/><use href="#lobeRiv" opacity="0.6"/><use href="#westdots"/><use href="#blobA" opacity="0.6"/><use href="#blobB" opacity="1.0"/><use href="#edge" stroke-width="1.4" opacity="0.75"/></g></g><g transform="translate(485.9,729.81) scale(0.992)"><use href="#base"/><g clip-path="url(#clipm)"><use href="#c2"/><use href="#pk"/><use href="#lobeRiv" opacity="0.5"/><use href="#mainriv" opacity="0.4"/><use href="#westdots"/><use href="#edge" stroke-width="1.1" opacity="0.75"/></g></g>
<text x="21.3" y="88.7" class="yr" textLength="44.6" lengthAdjust="spacingAndGlyphs">2013</text><text x="506.90000000000003" y="88.7" class="yr" textLength="44.6" lengthAdjust="spacingAndGlyphs">2014</text><text x="992.1" y="88.7" class="yr" textLength="44.6" lengthAdjust="spacingAndGlyphs">2015</text><text x="21.5" y="328.0" class="yr" textLength="44.6" lengthAdjust="spacingAndGlyphs">2016</text><text x="507.0" y="328.0" class="yr" textLength="44.6" lengthAdjust="spacingAndGlyphs">2017</text><text x="992.1" y="328.0" class="yr" textLength="44.6" lengthAdjust="spacingAndGlyphs">2018</text><text x="21.5" y="571.0" class="yr" textLength="44.6" lengthAdjust="spacingAndGlyphs">2019</text><text x="507.0" y="571.0" class="yr" textLength="44.6" lengthAdjust="spacingAndGlyphs">2020</text><text x="992.1" y="571.0" class="yr" textLength="44.6" lengthAdjust="spacingAndGlyphs">2021</text><text x="21.5" y="817.4" class="yr" textLength="44.6" lengthAdjust="spacingAndGlyphs">2022</text><text x="507.0" y="817.4" class="yr" textLength="44.6" lengthAdjust="spacingAndGlyphs">2023</text>
<g id="legend">
<text x="1108.3" y="937.3" class="lgt">图</text>
<text x="1178.8" y="937.3" class="lgt">例</text>
<rect x="1048.5" y="954.8" width="31.8" height="15" fill="#E1B2A5" stroke="#D9A595" stroke-width="1"/>
<rect x="1184.3" y="954.8" width="31.3" height="15" fill="#4F70B2" stroke="#2F55A6" stroke-width="1"/>
<rect x="1048.5" y="985.5" width="31.8" height="15" fill="#FEF2A8" stroke="#FBEB98" stroke-width="1"/>
<rect x="1184.3" y="985.5" width="31.3" height="15" fill="#CDEFFC" stroke="#C5ECFB" stroke-width="1"/>
<text x="1086" y="971" class="lg" transform="translate(0,972.5) scale(1,0.87) translate(0,-972.5)">建设用地</text>
<text x="1221.5" y="971" class="lg" transform="translate(0,972.5) scale(1,0.87) translate(0,-972.5)">水系</text>
<text x="1086" y="1002" class="lg" transform="translate(0,1003) scale(1,0.87) translate(0,-1003)">林草地</text>
<text x="1221.5" y="1002" class="lg" transform="translate(0,1003) scale(1,0.87) translate(0,-1003)">湿地</text>
</g>
<g id="north" stroke="#000" stroke-width="1" stroke-linejoin="miter">
<polygon points="1407.5,838.2 1407.5,891.1 1398.6,882" fill="#fff"/>
<polygon points="1407.5,838.2 1407.5,891.1 1416.3,881.7" fill="#000"/>
<polygon points="1460.1,890.7 1407.5,891.1 1416.3,881.7" fill="#fff"/>
<polygon points="1460.1,890.7 1407.5,891.1 1416.6,899.6" fill="#000"/>
<polygon points="1407.5,943.4 1407.5,891.1 1416.6,899.6" fill="#fff"/>
<polygon points="1407.5,943.4 1407.5,891.1 1399.1,899.6" fill="#000"/>
<polygon points="1354.8,890.7 1407.5,891.1 1399.1,899.6" fill="#fff"/>
<polygon points="1354.8,890.7 1407.5,891.1 1398.6,882" fill="#000"/>
</g>
<text x="1397.5" y="830.4" class="nn">N</text>
</svg>
</body></html>
